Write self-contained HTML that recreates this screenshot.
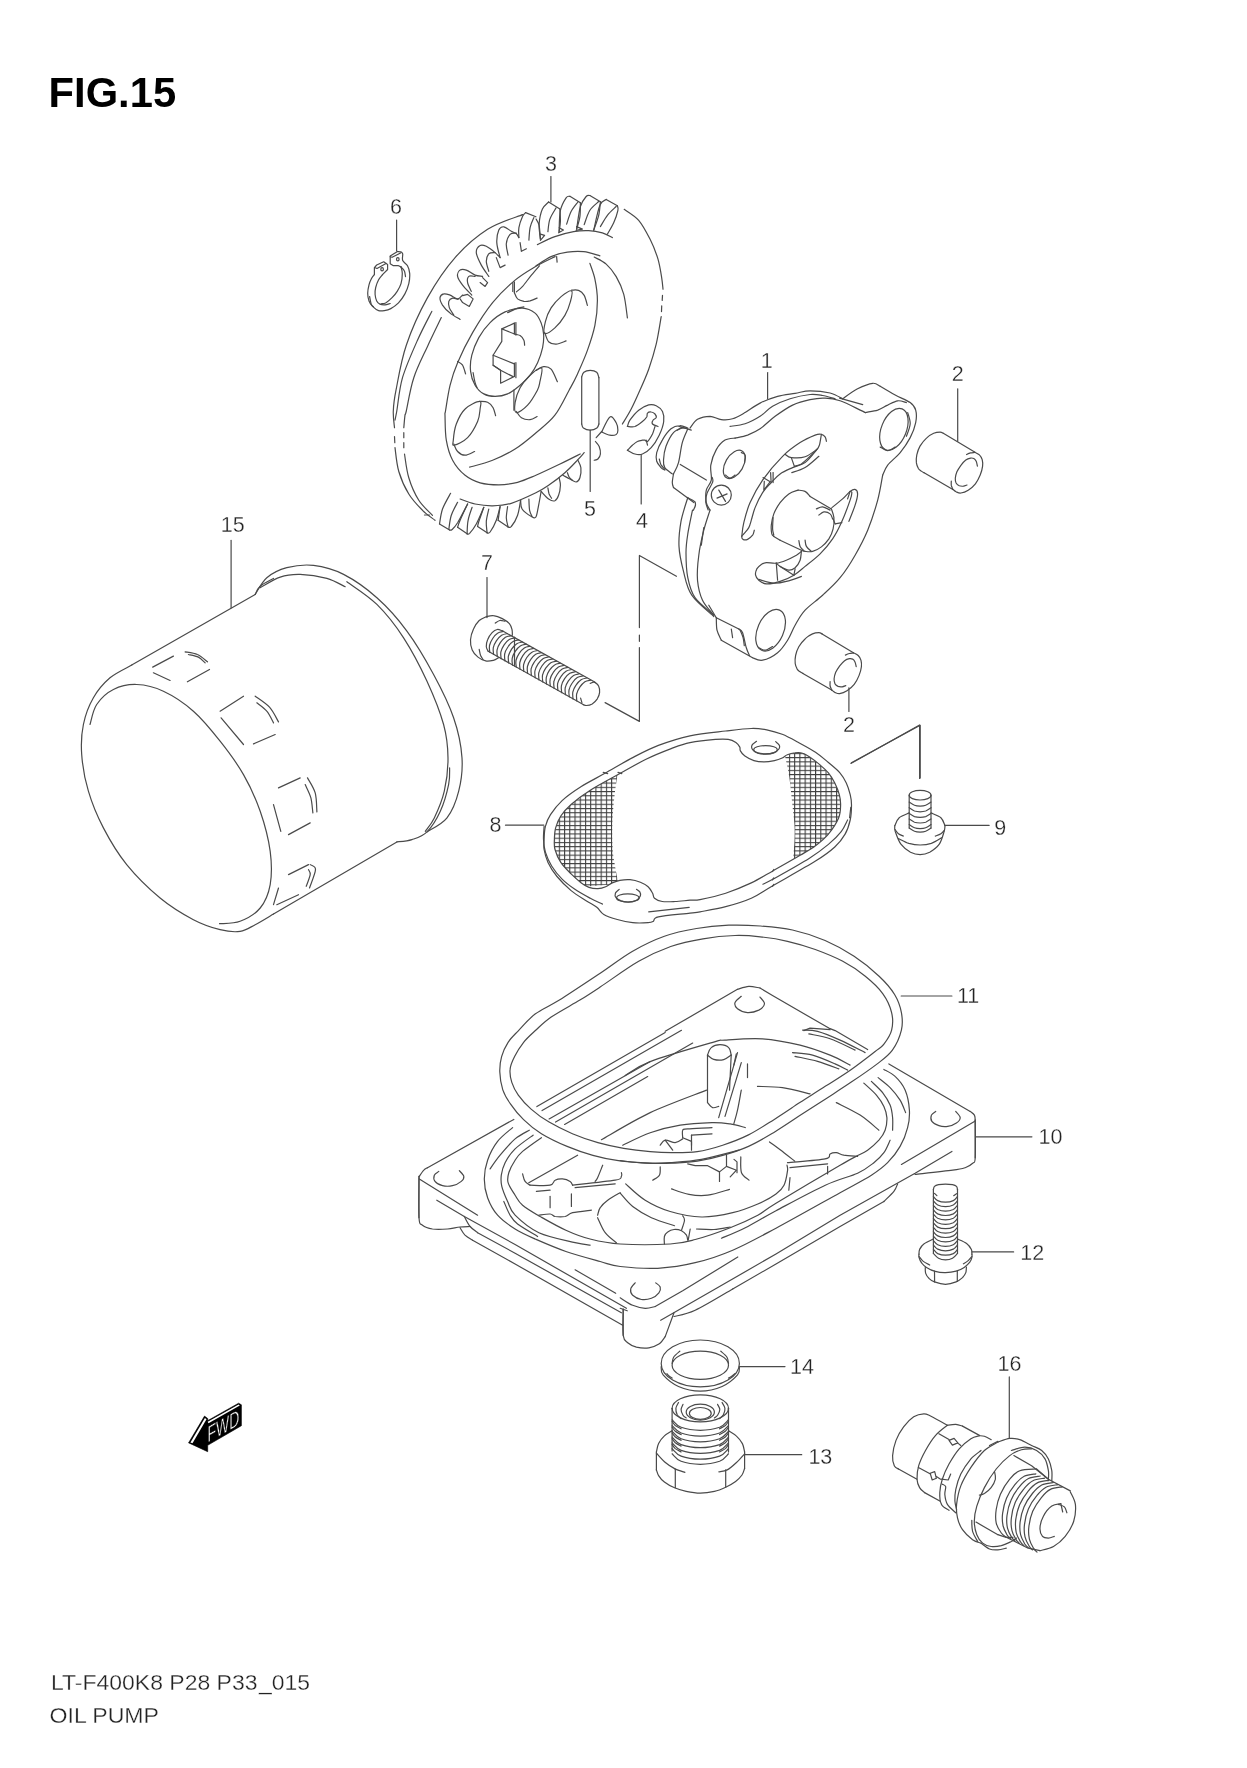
<!DOCTYPE html>
<html><head><meta charset="utf-8"><title>FIG.15 OIL PUMP</title>
<style>
html,body{margin:0;padding:0;background:#fff}
svg{display:block;filter:grayscale(1)}
svg path,svg ellipse,svg line,svg circle{fill:none;stroke:#4a4a4a;stroke-width:1.2;stroke-linecap:round;stroke-linejoin:round}
svg text{font-family:"Liberation Sans",Arial,sans-serif;fill:#222;stroke:#fff;stroke-width:0.3;paint-order:fill stroke}
</style></head><body>
<svg width="1247" height="1768" viewBox="0 0 1247 1768">
<rect width="1247" height="1768" fill="#fff" stroke="none"/>
<path d="M624.2 209.3C626.6 211.1 634.4 215.3 638.7 220.3C643 225.3 646.7 232.6 650 239.1C653.2 245.5 656 252.6 658 259.1C659.9 265.6 660.9 272.8 661.7 277.9C662.5 282.9 662.8 287.2 663 289.1"/>
<path d="M662.5 295.4L662.2 300.4"/>
<path d="M661.7 305.9L661.5 311.6"/>
<path d="M661.2 316.6C660.4 321.2 658.3 335.4 656.2 344.2C654.1 352.9 651.4 361.5 648.7 369.2C646 376.8 642.9 383.6 639.9 390.2C637 396.8 634.1 403.3 631.2 409C628.3 414.6 623.9 421.5 622.4 424"/>
<path d="M522.6 214.6C516.8 217 498.8 222.1 487.6 229.3C476.3 236.5 465.1 246.2 455.1 257.6C445 269 435.7 283 427.5 297.6C419.4 312.2 411.5 329.7 406.3 345.2C401 360.6 398.2 379.2 396 390.2C393.8 401.2 393.5 404.7 393.3 411C393 417.2 394.3 424.9 394.5 427.7"/>
<path d="M394.5 436.5L394.8 442.7"/>
<path d="M395 447.7C395.6 451.7 396.5 463.8 398.8 471.5C401.1 479.2 404.8 487.6 408.8 494C412.7 500.5 418.2 505.9 422.5 510.3C426.9 514.7 433 518.6 435 520.3"/>
<path d="M431.8 311.4C429.4 316.2 422.4 329.1 417.5 340.2C412.6 351.2 406 365.9 402.5 377.7C399.1 389.5 398 403.9 396.8 411C395.5 418 395.3 418.7 395 420.2"/>
<path d="M441.3 317.6C439 322.4 432.1 336.4 427.5 346.4C422.9 356.4 417.3 366.9 413.8 377.7C410.2 388.4 407.7 404.7 406.3 411C404.8 417.2 405.4 412.4 405 415.2C404.6 418 404 425.6 403.8 427.7"/>
<path d="M403.8 432.7L403.8 437.7"/>
<path d="M403.8 442.7L403.8 447.7"/>
<path d="M404.5 454C405.2 457.9 406.4 470 408.8 477.8C411.1 485.5 414.8 494 418.8 500.3C422.7 506.5 430.2 512.8 432.5 515.3"/>
<path d="M424.5 515L429.5 515"/>
<path d="M555.1 256.6C551.9 258.2 542.5 262.4 535.9 266.3C529.2 270.3 522.3 274.1 515.1 280.1C507.9 286.2 499.7 293.9 492.6 302.6C485.5 311.4 478.4 322.6 472.6 332.6C466.7 342.7 461.3 353.9 457.6 362.7C453.8 371.4 452.1 377.1 450.1 385.2C448.1 393.2 446.4 405.9 445.5 411C444.7 416 444.9 410.3 445 415.2C445.2 420.1 445 432.7 446.3 440.2C447.6 447.7 449.4 454.4 452.6 460.2C455.7 466.1 460.5 471.5 465.1 475.3C469.7 479 474.4 481.2 480.1 482.8C485.7 484.3 492.6 484.8 498.8 484.8C505.1 484.7 511.4 483.8 517.6 482.3C523.8 480.7 528.8 478.3 535.9 475.3C543 472.2 552.8 467.5 560.1 464C567.5 460.4 576.8 455.7 580.2 454"/>
<path d="M536.1 265.8C538.6 264.3 545.9 258.9 551.1 256.6C556.3 254.3 562 252.9 567.4 252.1C572.8 251.3 578.2 251 583.7 251.6C589.1 252.2 597.2 255.1 599.9 255.8"/>
<path d="M556.6 256.6L557.1 262.1"/>
<path d="M594.2 257.1C596.2 258.3 602.5 260.8 606.2 264.1C609.8 267.3 613.3 271.6 616.2 276.6C619.1 281.6 621.8 287.2 623.7 294.1C625.6 301 626.8 313.9 627.4 317.9"/>
<path d="M589.9 263.3C590.7 266 593.7 272.9 594.9 279.1C596.2 285.3 597.4 292.7 597.4 300.4C597.4 308.1 596.6 317 594.9 325.4C593.2 333.7 590.3 342.3 587.4 350.4C584.5 358.5 580.4 367.5 577.4 374.2C574.4 380.8 572.9 383.3 569.1 390.2C565.4 397 560.4 408.1 554.9 415.2C549.4 422.3 542.7 427.1 536.1 432.7C529.5 438.3 522.4 444.4 515.1 449C507.8 453.6 500.2 457.2 492.6 460.2C485 463.3 473.4 466.1 469.6 467.2"/>
<path d="M537.4 244.6C540.3 243.2 548.8 238.7 554.9 236.6C560.9 234.4 568 232.6 573.6 231.6C579.3 230.6 583.9 230.4 588.7 230.6C593.5 230.8 598.5 231.7 602.4 232.8C606.4 234 610.8 236.8 612.4 237.6"/>
<path d="M460.1 499C462.6 499.9 469.7 502.9 475.1 504C480.5 505.1 486.5 505.9 492.6 505.8C498.6 505.6 504.1 505.4 511.3 503.3C518.6 501.1 529.7 495.8 535.9 492.8C542.1 489.8 543.8 488.6 548.6 485.3C553.5 481.9 560.1 476.9 564.9 472.7C569.7 468.6 574.2 463.6 577.4 460.2C580.6 456.9 583 454 584.2 452.7"/>
<path d="M540.4 239.1C540.2 236.6 538.8 229.1 539.1 224.1C539.5 219.1 540.8 212.7 542.4 209.1C544 205.4 547.6 203.2 548.6 202"/>
<path d="M548.6 202L559.9 209.1"/>
<path d="M559.9 209.1C560 211.1 560.5 217.8 560.4 221.6C560.3 225.3 559.3 229.9 559.1 231.6"/>
<path d="M547.9 231.6C548.2 229.5 548.5 223 549.9 219.1C551.3 215.1 555.1 209.7 556.1 207.8"/>
<path d="M559.1 231.6C559.3 228 559.2 215.9 560.4 210.3C561.6 204.7 564.6 200.1 566.1 197.8C567.7 195.5 569.3 196.5 569.9 196.3"/>
<path d="M569.9 196.3L580.4 202.8"/>
<path d="M580.4 202.8C580.3 205.1 580.5 212.2 579.9 216.6C579.3 220.9 577.2 227 576.6 229.1"/>
<path d="M566.6 224.1C567.4 222 569.3 215.2 571.1 211.6C573 207.9 576.8 203.6 577.9 202"/>
<path d="M576.6 229.1C577.3 225.3 578.8 212 580.4 206.5C582 201.1 584.6 198.4 586.2 196.5C587.7 194.7 589.3 195.7 589.9 195.5"/>
<path d="M589.9 195.5L600.4 201.8"/>
<path d="M600.4 201.8C600.1 204 599.8 210.6 598.7 215.3C597.5 220.1 594.5 227.8 593.7 230.3"/>
<path d="M584.2 224.6C585.1 222.2 587.5 214.1 589.9 210.3C592.3 206.5 597.2 203 598.7 201.5"/>
<path d="M593.7 230.3C594.7 226.1 597.8 210.4 599.9 205.3C602 200.2 605.1 200.5 606.2 199.5"/>
<path d="M606.2 199.5L617.4 205.8"/>
<path d="M617.4 205.8C617.5 206.5 618.6 207.5 617.9 210.3C617.3 213.1 615.4 218.9 613.7 222.8C611.9 226.8 608.5 232.2 607.4 234.1"/>
<path d="M600.4 226.6C601.6 224.7 604.8 218.6 607.4 215.3C610 212 614.7 208 616.2 206.5"/>
<path d="M540.4 234.1L544.6 235.3L540.4 240.3"/>
<path d="M559.1 227.8L563.4 230.1L558.6 232.8"/>
<path d="M576.6 226.6L582.4 229.1L576.1 230.3"/>
<path d="M460.1 319.4C458.4 318.3 453 315.5 450.1 313.1C447.1 310.8 444.2 307.7 442.5 305.1C440.9 302.5 439.8 299.5 440 297.6C440.3 295.7 442.1 294.3 443.8 293.9C445.5 293.4 447.8 294.3 450.1 295.1C452.3 296 455.5 298.9 457.6 298.9C459.6 298.9 461.7 295.7 462.6 295.1"/>
<path d="M453.8 315.1C453.1 313.9 450.1 309.9 449.3 307.6C448.5 305.3 448.3 303 448.8 301.4C449.3 299.8 451 298.5 452.6 298.1C454.1 297.8 457.1 299.2 458.1 299.4"/>
<path d="M462.6 295.6L467.6 294.4L473.1 298.9L469.3 306.4L462.6 302.6L460.1 298.9"/>
<path d="M471.8 295.1C470.3 293.4 464.9 288.2 462.6 285.1C460.2 282 458 278.9 457.6 276.4C457.1 273.9 458.6 271.1 460.1 270.1C461.5 269.1 463.8 269.3 466.3 270.1C468.8 270.9 472.4 274.1 475.1 275.1C477.8 276.1 481.3 276.1 482.6 276.4"/>
<path d="M471.3 291.4C470.7 289.9 468 285.1 467.6 282.6C467.1 280.1 467.6 277.4 468.8 276.4C470.1 275.3 474 276.4 475.1 276.4"/>
<path d="M482.6 277.6L487.6 282.6L485.1 286.4L480.1 282.6"/>
<path d="M488.8 276.4C487.6 274.5 483.4 269.1 481.3 265.1C479.2 261.1 476.5 255.8 476.3 252.6C476.1 249.3 478.4 246.6 480.1 245.6C481.7 244.5 483.8 245.2 486.3 246.3C488.8 247.5 492.8 250.7 495.1 252.6C497.4 254.5 499.3 256.8 500.1 257.6"/>
<path d="M488.8 271.3C488.4 269.7 486.3 264.3 486.3 261.3C486.3 258.4 487.4 255.3 488.8 253.8C490.3 252.4 494 252.8 495.1 252.6"/>
<path d="M496.3 257.6L500.1 267.6L505.1 265.1"/>
<path d="M500.1 257.6C499.5 255.1 497 247.2 496.8 242.6C496.6 238 497.7 232.7 498.8 230.1C500 227.4 501.8 226.6 503.8 226.8C505.9 227 509.3 230.2 511.3 231.3C513.4 232.5 515.1 232.8 516.4 233.8C517.6 234.9 518.4 236.9 518.9 237.6"/>
<path d="M508.1 255.1C507.8 253.2 506 247.3 506.3 243.8C506.7 240.4 508.4 236.1 510.1 234.3C511.8 232.5 515.3 233.3 516.4 233.1"/>
<path d="M520.1 242.6L521.4 251.3L526.4 248.8"/>
<path d="M518.9 237.6C518.9 235.9 518.2 231.1 518.9 227.6C519.5 224 521.5 218.8 522.6 216.3C523.7 213.8 525.1 213.2 525.6 212.6"/>
<path d="M525.6 212.6L535.9 216.8"/>
<path d="M536.1 219.1C536.6 220.1 538.4 222 539.1 225.3C539.8 228.6 540.2 236.8 540.4 239.1"/>
<path d="M528.9 240.1C529.1 238 529.3 231.3 530.1 227.6C530.9 223.8 533.2 219.2 533.9 217.6"/>
<path d="M450.6 493.3C449.2 495.9 444.4 503.9 442.5 509C440.7 514.2 440 521.5 439.5 524"/>
<path d="M439.5 524L449.6 530"/>
<path d="M449.6 530C450 530 450.7 530.8 452.1 529.5C453.4 528.3 455 527 457.6 522.8C460.1 518.5 465.9 507.2 467.6 504"/>
<path d="M457.6 502.3C456.5 504.4 452.8 510.7 451.3 515.3C449.8 519.8 449.2 527.2 448.8 529.5"/>
<path d="M467.6 504C466.3 506.7 461.7 516.4 460.1 520.3C458.4 524.2 458 526.1 457.6 527.3"/>
<path d="M457.6 527.3L467.1 533.8"/>
<path d="M467.1 533.8C467.5 533.7 468 534.9 469.6 533.3C471.1 531.7 473.9 528.4 476.3 524C478.7 519.7 482.6 510.1 483.8 507.3"/>
<path d="M472.1 507.3C471.4 509.4 468.9 515.9 468.1 520.3C467.2 524.7 467.2 531.5 467.1 533.8"/>
<path d="M483.8 507.3C483 509.7 479.9 518.3 478.8 521.5C477.8 524.7 477.8 525.7 477.6 526.5"/>
<path d="M477.6 526.5L487.1 532.8"/>
<path d="M487.1 532.8C487.6 532.7 488.5 534.1 490.1 532C491.6 530 494.7 524.5 496.3 520.3C498 516 499.5 508.8 500.1 506.5"/>
<path d="M488.8 509C488.4 511.1 486.6 517.6 486.3 521.5C486 525.5 487 530.9 487.1 532.8"/>
<path d="M500.1 506.5L498.1 520.3"/>
<path d="M498.1 520.3L508.1 527"/>
<path d="M508.1 527C508.6 527 509.8 528.5 511.3 526.5C512.9 524.6 516.1 519.7 517.6 515.3C519.1 510.9 520.1 502.8 520.6 500.3"/>
<path d="M507.6 506.5C507.4 508.4 506.3 514.4 506.3 517.8C506.4 521.2 507.8 525.5 508.1 527"/>
<path d="M520.6 500.3C520.9 501.7 520.3 506.3 522.1 509C523.9 511.7 529.1 515.2 531.4 516.5C533.7 517.9 534.7 518.9 535.9 517C537.1 515.2 537.7 509.5 538.6 505.3C539.5 501 540.7 493.8 541.1 491.5"/>
<path d="M528.9 499C529 500.9 529.1 507.4 529.6 510.3C530.2 513.2 531.7 515.5 532.1 516.5"/>
<path d="M541.1 491.5C542.4 492.8 546.3 497.5 548.6 499C550.9 500.6 553.2 501.4 554.9 500.8C556.5 500.1 557.7 497.9 558.6 495.3C559.6 492.7 560.3 488.2 560.4 485.3C560.5 482.3 559.3 479 559.1 477.8"/>
<path d="M547.9 487.8C548.1 488.8 548.5 492.3 549.1 494C549.8 495.8 551.2 497.6 551.6 498.3"/>
<path d="M562.9 475.3C564.1 475.9 567.7 477.9 569.9 479C572.1 480.1 574.5 482.2 576.1 482C577.8 481.8 579.1 480.1 579.9 477.8C580.7 475.4 581.2 470.7 580.9 467.7C580.6 464.8 578.4 461.5 577.9 460.2"/>
<path d="M567.4 472.7C567.7 473.5 568.3 475.8 569.1 477C570 478.3 571.9 479.7 572.4 480.3"/>
<path d="M601.7 432C603 429.5 607.5 418.5 609.9 417C612.3 415.4 614.8 420.5 616.2 422.7C617.5 424.9 617.9 428.3 617.9 430.2C617.9 432.2 617.5 433.6 616.2 434.5C614.8 435.3 612.3 435.6 609.9 435.2C607.5 434.8 603 432.5 601.7 432"/>
<path d="M601.7 431.5L596.2 437.7"/>
<path d="M595.4 441.5C596 442.3 598.3 444.4 599.2 446.5C600 448.6 600.6 451.9 600.4 454C600.2 456.1 599 457.9 597.9 459C596.9 460 594.8 460 594.2 460.2"/>
<path d="M522.6 308.1C517.6 307.9 510.5 309.5 505.1 311.9C499.7 314.3 494.5 318.3 490.1 322.6C485.7 326.9 481.9 332.2 478.8 337.6C475.8 343.1 473.2 349.5 471.8 355.2C470.4 360.8 470 366.4 470.6 371.4C471.1 376.4 472.9 381.4 475.1 385.2C477.3 388.9 480.5 392.1 483.8 393.9C487.2 395.8 491.1 396.4 495.1 396.4C499 396.4 503.4 395.8 507.6 393.9C511.8 392.1 516.4 388.3 520.1 385.2C523.9 382.1 527.2 378.9 530.1 375.2C533 371.4 535.5 367.3 537.6 362.7C539.7 358.1 541.6 352.4 542.6 347.7C543.6 342.9 543.9 338.3 543.6 334.1C543.4 330 542.5 326.4 541.1 322.9C539.7 319.4 538.2 315.6 535.1 313.1C532 310.7 527.6 308.3 522.6 308.1Z"/>
<path d="M507.6 312.6C509.3 311.9 514.9 309.1 517.6 308.1C520.3 307.2 522.8 307.1 523.9 306.9"/>
<path d="M473.1 372.7C473.4 374.3 474.4 380.2 475.1 382.7C475.7 385.2 476.7 386.9 477.1 387.7"/>
<path d="M514.4 323.1L501.8 328.9L501.8 341.4L493.1 355.2L493.1 365.2L500.6 370.2L500.6 383.2L514.4 376.4"/>
<path d="M514.4 323.1L514.4 333.9"/>
<path d="M515.9 322.6L515.9 335.1"/>
<path d="M514.4 363.2L514.4 376.4"/>
<path d="M515.9 362.7L515.9 377.7"/>
<path d="M501.8 328.9C503.9 329.7 511.3 332.8 514.4 333.9C517.4 335 518.5 334.6 520.1 335.6C521.7 336.7 523.1 338.6 523.9 340.2C524.6 341.7 524.5 344.3 524.6 345.2"/>
<path d="M493.1 355.2L514.4 363.9"/>
<path d="M493.1 365.2L500.6 370.2L512.6 376.4"/>
<path d="M457.6 361.4C458.4 362 461.2 363.1 462.6 365.2C463.9 367.3 465.1 372.5 465.6 373.9"/>
<path d="M514.4 281.9L514.4 293.1"/>
<path d="M512.8 282.6L512.8 291.4"/>
<path d="M514.4 292.6C514.9 293.7 516 297.4 517.6 298.9C519.2 300.3 521.8 301 523.9 301.4C525.9 301.7 527.9 301.4 530.1 300.9C532.3 300.3 536 298.6 537.1 298.1"/>
<path d="M539.4 265.8C538 267.4 534.2 271.7 531.4 275.1C528.6 278.5 525.1 283.6 522.6 286.4C520.1 289.2 517.4 290.9 516.4 291.9"/>
<path d="M571.6 290.9C570.1 290 564.6 293.8 561.1 296.6C557.7 299.5 553.8 303.7 551.1 307.9C548.5 312 546.4 317.4 545.4 321.6C544.3 325.9 543.3 332.4 544.9 333.4C546.5 334.4 551.5 330.9 554.9 327.9C558.2 324.9 562.3 319.8 564.9 315.4C567.5 311 569.3 305.7 570.4 301.6C571.5 297.5 573.2 291.7 571.6 290.9Z"/>
<path d="M571.6 290.1C572.8 290.2 576.6 289.5 578.6 290.4C580.7 291.2 582.7 292.9 584.2 295.4C585.6 297.9 586.9 303.7 587.4 305.4"/>
<path d="M544.9 332.9C545.5 334.4 546.8 339.8 548.6 341.7C550.5 343.5 553.2 344.3 556.1 344.2C559.1 344 564.5 341.4 566.1 340.9"/>
<path d="M541.6 367.9C540 366.8 533.7 371.9 530.1 375.2C526.5 378.5 522.6 383.1 520.1 387.7C517.6 392.3 515.7 398.5 515.1 402.7C514.5 406.9 514.3 412.3 516.4 412.7C518.4 413.1 524.1 409 527.6 405.2C531.1 401.4 535.3 394.1 537.4 390.2C539.4 386.3 539.2 385.4 539.9 381.7C540.6 378 543.2 369 541.6 367.9Z"/>
<path d="M536.1 370.4C537.4 369.8 541.1 366.9 543.6 366.7C546.1 366.5 548.8 366.7 551.1 369.2C553.4 371.7 556.3 379.6 557.4 381.7"/>
<path d="M516.4 411.5C517.2 412.5 519.1 416.3 521.4 417.7C523.6 419.1 527.5 419.9 530.1 419.7C532.7 419.5 536 417 537.1 416.5"/>
<path d="M513.9 390.2L513.9 410.2"/>
<path d="M479.6 401.4C477.1 401.4 468.9 405.2 465.1 409C461.2 412.7 458.3 418.8 456.3 424C454.3 429.2 453.6 436.7 453.3 440.2C453 443.8 451.9 445.6 454.3 445.2C456.7 444.8 463.7 441.7 467.6 437.7C471.4 433.8 475.5 426.3 477.6 421.5C479.7 416.7 479.7 412.3 480.1 409C480.4 405.6 482.1 401.4 479.6 401.4Z"/>
<path d="M479.6 401.4C480.9 401.6 485.3 401.2 487.6 402.2C489.8 403.2 491.8 405.4 493.1 407.7C494.4 410 495.2 414.4 495.6 415.7"/>
<path d="M453.8 444C454.4 445.2 455.7 449.6 457.6 451.5C459.4 453.4 462.2 455.2 465.1 455.2C467.9 455.2 473 452.1 474.6 451.5"/>
<path d="M581.7 376.9L581.7 424"/>
<path d="M598.9 377.7L598.9 424"/>
<path d="M581.7 376.9C582 376.1 582.5 373.3 583.9 372.2C585.3 371.1 588 370.4 590.2 370.4C592.3 370.4 595.2 371 596.7 372.2C598.1 373.4 598.5 376.8 598.9 377.7"/>
<path d="M581.7 424C581.9 424.6 582 426.9 583.4 428C584.8 429 587.9 430.2 590.2 430.2C592.4 430.2 595.5 429 596.9 428C598.4 426.9 598.6 424.6 598.9 424"/>
<path d="M590.2 430.2L590.2 491.5"/>
<path d="M627.4 450.2C628.7 450.9 632.4 453.4 634.9 454C637.4 454.6 639.7 455 642.4 454C645.2 452.9 648.4 450.9 651.2 447.7C654 444.6 657.1 439.6 659.2 435.2C661.3 430.8 663.2 425.4 663.7 421.5C664.3 417.5 663.7 414.1 662.5 411.5C661.2 408.8 658.5 406.8 656.2 405.7C653.9 404.6 651.6 404.2 648.7 404.9C645.8 405.7 641.8 407.7 638.7 410.2C635.6 412.7 631.8 417.5 629.9 420.2C628.1 422.9 627.9 425.4 627.4 426.5"/>
<path d="M627.4 426.5C628.7 426.5 632.4 427.3 634.9 426.5C637.4 425.6 640.5 423 642.4 421.5C644.4 419.9 645.9 418.3 646.7 417C647.5 415.6 646.7 414 647.5 413.2C648.2 412.4 650 411.8 651.2 412C652.5 412.1 654.1 413 655 414C655.8 414.9 656.5 416.7 656.2 417.7C655.9 418.8 653.6 419.2 653 420.2C652.3 421.3 651.6 422.9 652.5 424C653.3 425 657 426 658 426.5"/>
<path d="M655 426.5C654.5 427.7 653.7 431.5 652.5 434C651.2 436.5 648.7 440.4 647.5 441.5C646.2 442.5 645.8 440.4 644.9 440.2C644.1 440 643.7 440 642.4 440.2C641.2 440.4 639.1 440.6 637.4 441.5C635.8 442.3 634.1 443.8 632.4 445.2C630.8 446.7 628.3 449.4 627.4 450.2"/>
<path d="M646.2 440.2L647.5 445.2"/>
<path d="M641.2 454.5L641.2 504"/>
<path d="M550.9 176.5L550.9 202"/>
<path d="M397.5 251.5C398.1 251.6 400.1 251.5 401 251.9C401.9 252.3 402.4 252.4 402.7 253.8C403 255.2 401.9 258.5 402.7 260.5C403.5 262.5 406.3 263.6 407.5 265.7C408.7 267.8 409.5 270.4 409.7 273.4C409.9 276.4 409.6 280.2 408.8 283.6C408 287 406.6 290.7 404.9 293.9C403.2 297.1 400.9 300.4 398.5 302.9C396.1 305.3 393.2 307.3 390.8 308.6C388.4 309.9 386.4 310.3 384.4 310.6C382.4 310.9 380.5 311.2 378.6 310.6C376.7 310 374.4 308.3 372.8 306.7C371.2 305.1 369.9 303.1 369 300.9C368.1 298.6 367.7 295.9 367.7 293.2C367.7 290.5 368.4 287.3 369 284.9C369.6 282.4 370.6 280.2 371.5 278.5C372.4 276.8 373.9 275.2 374.4 274.6"/>
<path d="M374.4 274.6L374.4 267.6L376.7 265L383.7 261.8L387.6 264.4L387.6 269.5L382.5 274.6"/>
<path d="M382.5 274.6C381.9 275.5 379.7 277.7 378.6 279.8C377.5 281.9 376.3 285.1 375.7 287.5C375.1 289.9 374.9 292.3 375.1 294.5C375.3 296.7 375.9 299.3 376.7 300.9C377.5 302.5 378.5 303.5 379.9 304.1C381.3 304.8 383.3 304.9 385 304.8C386.7 304.7 389.3 303.7 390.2 303.5"/>
<path d="M401 266.9C401.2 268 402.3 270.6 402.3 273.4C402.3 276.2 401.9 280.6 401 283.6C400.1 286.6 398.7 289 397.2 291.3C395.7 293.6 394 295.8 392.1 297.7C390.2 299.6 387.5 301.9 385.7 302.9C383.9 303.9 381.9 303.6 381.2 303.8"/>
<path d="M397.5 251.5L390.2 256L390.2 263.7L393.4 265.7L398.5 265.7L401 266.9"/>
<path d="M390.2 256.7L392.1 257.3L401 252.8"/>
<path d="M374.6 267.5L377 268.5L386 263.5"/>
<path d="M369.6 296.5C369.9 297.8 370.6 302.4 371.2 304.1C371.8 305.8 373.1 306.3 373.5 306.7"/>
<path d="M396.6 220L396.6 251"/>
<path d="M690 428.1C691.3 426.6 694.2 421.3 697.5 419.3C700.9 417.4 706.1 416.3 710 416.3C714 416.4 717.5 419.2 721.3 419.6C725 420 728.6 420 732.6 418.8C736.5 417.6 740.5 415.2 745.1 412.6C749.7 409.9 754.7 405.8 760.1 403.1C765.5 400.3 771.8 397.9 777.6 396.3C783.4 394.7 789.7 394.2 795.1 393.3C800.5 392.4 804.3 390.8 810.1 390.8C816 390.8 824.7 391.7 830.1 393C835.5 394.4 840.6 397.8 842.6 398.8"/>
<path d="M730.1 426.3C732.6 425.9 740.1 425.5 745.1 423.8C750.1 422.2 755.5 419.2 760.1 416.3C764.7 413.4 767.6 409.2 772.6 406.3C777.6 403.4 783.8 400.8 790.1 398.8C796.4 396.8 804.7 395.1 810.1 394.5C815.5 394 818.5 394.8 822.6 395.5C826.8 396.3 833 398.3 835.1 398.8"/>
<path d="M735.1 438.1C737.1 437.6 743.4 436.6 747.6 435.1C751.7 433.5 755.5 432 760.1 428.8C764.7 425.7 769.7 420.3 775.1 416.3C780.5 412.4 786.8 407.9 792.6 405.1C798.4 402.3 804.7 400.7 810.1 399.6C815.5 398.4 820.1 397.8 825.1 398.1C830.1 398.3 834.3 398.8 840.1 400.8C846 402.8 856 408.1 860.2 410.1C864.3 412 864.3 412.1 865.2 412.6"/>
<path d="M842.6 398.8C845.1 397.1 852.6 391.4 857.6 388.8C862.7 386.2 868.9 383.7 872.7 383.3C876.4 382.9 878.9 385.8 880.2 386.3"/>
<path d="M880.2 386.3C882.7 387.8 890.2 392.3 895.2 395C900.2 397.8 906.8 400.1 910.2 402.6C913.6 405.1 914.8 406.7 915.7 410.1C916.6 413.4 916.6 418 915.7 422.6C914.8 427.2 912.8 432.6 910.2 437.6C907.6 442.6 903.9 448 900.2 452.6C896.4 457.2 890.6 461.3 887.7 465.1C884.8 468.9 883.5 473.4 882.7 475.1"/>
<path d="M865.2 412.6C867.2 412.1 873.9 411.3 877.7 410.1C881.4 408.8 884.3 406.6 887.7 405.1C891 403.5 894.6 401.2 897.7 400.8C900.8 400.4 905 402.3 906.4 402.6"/>
<path d="M839.6 398.1L862.7 404.6" stroke-width="1.6"/>
<ellipse cx="893.9" cy="429.3" rx="12.5" ry="22" transform="rotate(22 893.9 429.3)"/>
<path d="M907.7 412.6C908.1 414.4 910.4 419.9 910.2 423.8C910 427.8 907.1 434.2 906.4 436.3"/>
<path d="M880.2 447.1C881.4 447.7 885.2 450.6 887.7 450.6C890.2 450.6 893.9 447.7 895.2 447.1"/>
<path d="M882.7 475.1C881.8 479.3 880.2 491 877.7 500.1C875.2 509.3 871.4 521 867.7 530.2C863.9 539.3 859.7 547.2 855.1 555.2C850.6 563.1 845.6 571 840.1 577.7C834.7 584.4 828.5 589.8 822.6 595.2C816.8 600.6 809.7 605.2 805.1 610.2C800.5 615.2 798 620.2 795.1 625.2C792.2 630.2 790.5 635.6 787.6 640.2C784.7 644.8 781.8 649.4 777.6 652.7C773.4 656.1 766.7 659.4 762.6 660.2C758.4 661.1 754.2 658.2 752.6 657.7"/>
<path d="M735.1 438.1C733.4 438.4 728.2 438.2 725 440.1C721.9 442 718.7 445.4 716.3 449.6C713.9 453.8 711.6 460 710.8 465.1C710 470.2 712 475.9 711.3 480.1C710.5 484.3 707.1 486.4 706.3 490.1C705.5 493.9 705.7 499.3 706.3 502.6C706.9 506 709.4 508.9 710 510.1"/>
<path d="M710 510.1C709 513.5 705.7 522.6 703.8 530.2C701.9 537.7 699.8 546.8 698.8 555.2C697.7 563.5 696.9 572.7 697.5 580.2C698.2 587.7 699.8 594.4 702.5 600.2C705.2 606 711.9 612.7 713.8 615.2"/>
<path d="M703.8 527.6L701.3 545.2"/>
<path d="M687.8 497.6C686.6 501.6 682.5 513.3 681 521.4C679.6 529.5 678.6 538.1 679 546.4C679.4 554.8 681.4 563.3 683.5 571.4C685.6 579.6 686.7 587.7 691.8 595.2C696.8 602.7 710.1 612.9 713.8 616.5"/>
<path d="M692.5 510.1C691.7 514.1 688.9 526.8 687.8 533.9C686.7 541 686 545.4 686 552.7C686 560 686.3 570.2 687.8 577.7C689.3 585.2 690.7 591.4 695 597.7C699.4 604 710.7 612.3 713.8 615.2"/>
<path d="M708.8 605.2L716.3 617.7" stroke-width="1.6"/>
<path d="M716.3 617.7C716.4 619.8 716.2 626.5 717 630.2C717.9 634 720.6 638.6 721.3 640.2"/>
<path d="M721.3 640.2L752.6 657.7"/>
<path d="M716.3 617.7L738.8 629"/>
<path d="M738.8 629C739.4 629.6 741.3 629.6 742.6 632.7C743.8 635.9 745.1 643.9 746.3 647.7C747.5 651.6 749 654.4 749.6 655.7"/>
<path d="M731.3 629L732.6 637.7"/>
<path d="M740.1 630.2C740.6 631.5 742.4 635.1 743.1 637.7C743.8 640.3 744.1 644.4 744.3 645.7"/>
<ellipse cx="770.6" cy="630.2" rx="13" ry="22" transform="rotate(24 770.6 630.2)"/>
<path d="M758.8 647.7C759.9 648.2 762.8 650.4 765.1 650.2C767.4 650 771.3 647.1 772.6 646.5"/>
<ellipse cx="734.3" cy="464.4" rx="9" ry="15.5" transform="rotate(30 734.3 464.4)"/>
<path d="M741.3 452.6C741.9 453 744.5 453.4 745.1 455.1C745.6 456.8 744.6 461.3 744.6 462.6"/>
<path d="M725.5 475.1C726.3 475.6 728.5 478.1 730.1 478.1C731.6 478.1 734.2 475.6 735.1 475.1"/>
<ellipse cx="721.3" cy="495.1" rx="10" ry="10" transform="rotate(0 721.3 495.1)"/>
<path d="M718.8 490.1L725.5 501.4"/>
<path d="M717 498.1L727.1 493.9"/>
<path d="M687.8 428.1C686.4 427.7 682.6 425.4 679.8 425.6C677 425.7 673.9 426.4 671 428.8C668.1 431.2 664.6 436.1 662.3 440.1C659.9 444 657.7 449 656.7 452.6C655.8 456.1 656 458.8 656.7 461.3C657.5 463.9 659.7 466.1 661 467.6C662.3 469.1 664.1 469.7 664.8 470.1"/>
<path d="M683.5 427.6C681.8 428.4 676.4 429.4 673.5 432.6C670.6 435.7 667.7 441.8 666 446.3C664.3 450.9 663.7 456.6 663.5 460.1C663.3 463.6 663.3 465.3 664.8 467.6C666.2 469.9 671 472.8 672.3 473.9"/>
<path d="M687.8 428.8C686.9 431.1 683.8 437 682.3 442.6C680.7 448.2 680 457.4 678.5 462.6C677.1 467.8 674.3 472 673.5 473.9"/>
<path d="M673.5 473.9C673.3 475.3 672.3 480.3 672.3 482.6C672.3 484.9 673.3 486.8 673.5 487.6"/>
<path d="M673.5 487.6L693.8 502.6"/>
<path d="M680.3 464.4L706.3 480.1"/>
<path d="M678.8 426.3L691.3 430.1"/>
<path d="M741.8 536.4C742.1 534.1 742.4 528.3 743.8 522.6C745.2 517 746.9 509.7 750.1 502.6C753.2 495.5 757.2 487.8 762.6 480.1C768 472.4 776.3 462.6 782.6 456.3C788.8 450.1 794.7 446.1 800.1 442.6C805.5 439 811.6 436.5 815.1 435.1C818.7 433.7 819.7 434 821.4 434.3C823 434.6 824.3 435.7 825.1 436.8C826 438 826.2 440.6 826.4 441.3"/>
<path d="M821.4 434.3C821 436.1 820.2 442.5 819.4 445.1C818.5 447.7 818.7 447.2 816.4 450.1C814 453 809.1 459.7 805.1 462.6C801.1 465.5 796.8 465.7 792.6 467.6C788.4 469.5 783.6 471.4 780.1 473.9C776.5 476.4 774.3 479.5 771.3 482.6C768.4 485.7 765.3 488.5 762.6 492.6C759.9 496.8 756.9 503 755.1 507.6C753.2 512.2 752.4 516.8 751.3 520.1C750.3 523.5 750.1 525.4 748.8 527.6C747.6 529.9 745 532.4 743.8 533.9C742.6 535.4 741.9 535.5 741.8 536.4C741.7 537.3 742.1 538.9 743.1 539.4C744 539.9 746 540.1 747.6 539.4C749.2 538.7 751.4 536.7 752.6 535.2C753.7 533.6 754 531 754.3 530.2"/>
<path d="M785.1 454.3C786.1 454.9 788 457.2 791.3 457.6C794.7 458 800.7 458.3 805.1 456.8C809.5 455.4 815.5 450.2 817.6 448.8"/>
<path d="M791.3 457.6L794.4 466.4"/>
<path d="M794.4 466.4C795.5 465.9 798.7 465.5 801.4 463.9C804 462.2 807.6 458.6 810.1 456.3C812.6 454.1 815.3 451.1 816.4 450.1"/>
<path d="M791.8 472.6C794.1 471.8 800.6 470.3 805.1 467.6C809.6 464.9 816.6 458.2 818.9 456.3"/>
<path d="M763.1 477.6L770.6 481.9"/>
<path d="M770.6 472.6L771.1 481.9"/>
<path d="M773.1 472.6L773.1 482.6"/>
<path d="M764.3 481.4L763.8 490.1L770.1 481.9"/>
<path d="M798.1 490.1C796.6 490.7 791.8 491.8 788.8 493.9C785.8 496 782.6 499.3 780.1 502.6C777.6 506 775.3 510.1 773.8 513.9C772.4 517.6 771.7 521.8 771.3 525.1C771 528.5 771.4 532 771.8 533.9C772.3 535.8 773.5 536 773.8 536.4"/>
<path d="M773.1 517.6C773 519.5 772.5 526 772.6 528.9C772.7 531.8 773.6 534.1 773.8 535.2"/>
<path d="M798.1 490.1C799.3 490.3 803.1 490.3 805.1 491.4C807.1 492.4 809.3 495.5 810.1 496.4"/>
<path d="M810.1 496.4L831.4 508.9"/>
<path d="M773.8 536.4L780.1 540.2"/>
<path d="M780.1 540.2L801.4 550.2"/>
<path d="M831.4 508.9C831.8 510.3 833.6 514.3 833.9 517.6C834.2 521 834 525.4 833.1 528.9C832.3 532.4 830.8 535.9 828.9 538.9C826.9 541.9 824.1 544.8 821.4 546.9C818.7 549 815.3 550.7 812.6 551.4C809.9 552.2 807 551.6 805.1 551.4C803.2 551.2 802 550.4 801.4 550.2"/>
<path d="M816.4 508.9C817.4 508.6 820.3 506.7 822.6 506.9C824.9 507.1 828.9 509.6 830.1 510.1"/>
<path d="M818.9 515.1C819.7 514.6 822 512.1 823.9 511.9C825.7 511.7 828.7 512.7 830.1 513.9C831.6 515.1 832.2 518.1 832.6 518.9"/>
<path d="M798.9 540.7C799.1 541.6 799.3 544.7 800.1 546.4C800.9 548.1 803.2 550 803.9 550.7"/>
<path d="M805.1 540.2C805.3 541.2 805.3 544.5 806.4 546.4C807.4 548.3 810.5 550.6 811.4 551.4"/>
<path d="M831.9 507.6C833.7 506.2 839.6 501.6 842.6 498.9C845.7 496.2 848.1 493 850.1 491.4C852.2 489.8 853.9 489 855.1 489.4C856.4 489.8 857.6 491.2 857.6 493.9C857.6 496.5 856.6 500.5 855.1 505.1C853.7 509.7 849.9 518.7 848.9 521.4"/>
<path d="M850.1 491.4C850.4 491.6 851.9 491.2 851.9 492.6C851.9 494.1 851.9 495.1 850.1 500.1C848.4 505.1 844.3 516.2 841.4 522.6C838.5 529.1 836.2 533.7 832.6 538.9C829.1 544.1 824.7 549.3 820.1 553.9C815.5 558.5 809.5 562.9 805.1 566.4C800.7 570 798 572.7 793.9 575.2C789.7 577.7 784.7 580 780.1 581.4C775.5 582.9 769.9 584.1 766.3 583.9C762.8 583.7 760.6 581.6 758.8 580.2C757 578.7 755.9 577.1 755.6 575.2C755.2 573.3 755.9 570.7 756.8 568.9C757.8 567.1 759.7 565.5 761.3 564.4C762.9 563.4 763.8 562.9 766.3 562.7C768.8 562.5 773 563.6 776.3 563.2C779.7 562.8 783 561.5 786.3 560.2C789.7 558.8 793.9 556.6 796.4 555.2C798.9 553.7 800.5 552 801.4 551.4"/>
<path d="M801.4 551.4C801.1 552.9 801.1 557.5 800.1 560.2C799.1 562.9 797 566 795.1 567.7C793.2 569.3 791.3 570.4 788.8 570.2C786.3 570 782.2 567.6 780.1 566.4C778 565.3 777 563.7 776.3 563.2"/>
<path d="M776.3 563.2L777.6 580.2"/>
<path d="M780.1 566.4L793.9 575.2"/>
<path d="M795.1 568.9L793.9 575.2"/>
<path d="M758.8 579.4C761.3 580.1 769.2 582.9 773.8 583.2C778.4 583.5 781.8 582.6 786.3 581.4C790.9 580.3 798.9 577.3 801.4 576.4"/>
<path d="M835.1 523.9L841.9 522.6"/>
<path d="M833.1 518.9L835.1 523.9"/>
<path d="M850.1 491.4L847.6 498.9"/>
<path d="M943.3 433.3C942.8 433.1 941.7 432.1 940.1 432.1C938.5 432.1 936 432.3 933.7 433.3C931.4 434.3 928.7 435.9 926.5 438.1C924.2 440.2 921.7 443.3 920 446.1C918.4 448.9 917.4 452.1 916.8 454.9C916.2 457.7 916.2 460.7 916.4 462.9C916.7 465.2 917.7 467.2 918.4 468.5C919.2 469.9 919.9 470.2 920.9 470.9C921.8 471.7 923.5 472.5 924.1 472.8"/>
<path d="M943.3 433.3L974.6 452.1"/>
<path d="M924.1 472.8L952.9 489.4"/>
<path d="M974.6 452.1C975.4 452.6 978.1 453.6 979.4 454.9C980.7 456.2 981.7 457.8 982.2 459.7C982.7 461.6 982.9 463.6 982.6 466.1C982.3 468.7 981.4 472 980.2 475C979 477.9 977.4 481.2 975.4 483.8C973.4 486.3 970.6 488.7 968.2 490.2C965.8 491.7 963 492.7 960.9 493C958.9 493.3 957.5 492.4 956.1 491.8C954.8 491.2 953.5 489.8 952.9 489.4"/>
<path d="M951.3 481C951.3 481.7 951.1 484 951.3 485.4C951.6 486.8 952.7 488.7 952.9 489.4"/>
<path d="M966.6 454.5C967.2 454.2 969.2 453.2 970.6 452.9C971.9 452.6 973.9 452.6 974.6 452.5"/>
<path d="M977.4 466.1C977.2 465.3 976.8 462.6 976.2 461.3C975.6 460.1 974.7 459.1 973.8 458.5C972.8 458 971.9 457.8 970.6 458.1C969.2 458.4 967.4 458.9 965.8 460.1C964.2 461.3 962.4 463.4 960.9 465.3C959.5 467.3 957.9 469.6 956.9 471.7C956 473.9 955.5 476.3 955.3 478.2C955.2 480 955.5 481.7 956.1 483C956.8 484.2 958.1 485.2 959.3 485.8C960.5 486.3 962.1 486.3 963.4 486.2C964.6 486 966.4 485.2 967 485"/>
<path d="M822.1 633.9C821.6 633.7 820.5 632.7 818.9 632.7C817.3 632.7 814.8 632.9 812.5 633.9C810.2 634.9 807.5 636.5 805.3 638.7C803 640.8 800.5 643.9 798.8 646.7C797.2 649.5 796.2 652.7 795.6 655.5C795 658.3 795 661.3 795.2 663.5C795.5 665.8 796.5 667.8 797.2 669.1C798 670.5 798.7 670.8 799.7 671.5C800.6 672.3 802.3 673.1 802.9 673.4"/>
<path d="M822.1 633.9L853.4 652.7"/>
<path d="M802.9 673.4L831.7 690"/>
<path d="M853.4 652.7C854.2 653.2 856.9 654.2 858.2 655.5C859.5 656.8 860.5 658.4 861 660.3C861.5 662.2 861.7 664.2 861.4 666.7C861.1 669.3 860.2 672.6 859 675.6C857.8 678.5 856.2 681.8 854.2 684.4C852.2 686.9 849.4 689.3 847 690.8C844.6 692.3 841.8 693.3 839.7 693.6C837.7 693.9 836.3 693 834.9 692.4C833.6 691.8 832.3 690.4 831.7 690"/>
<path d="M830.1 681.6C830.1 682.3 829.9 684.6 830.1 686C830.4 687.4 831.5 689.3 831.7 690"/>
<path d="M845.4 655.1C846 654.8 848 653.8 849.4 653.5C850.7 653.2 852.7 653.2 853.4 653.1"/>
<path d="M856.2 666.7C856 665.9 855.6 663.2 855 661.9C854.4 660.7 853.5 659.7 852.6 659.1C851.6 658.6 850.7 658.4 849.4 658.7C848 659 846.2 659.5 844.6 660.7C843 661.9 841.2 664 839.7 665.9C838.3 667.9 836.7 670.2 835.7 672.3C834.8 674.5 834.3 676.9 834.1 678.8C834 680.6 834.3 682.3 834.9 683.6C835.6 684.8 836.9 685.8 838.1 686.4C839.3 686.9 840.9 686.9 842.2 686.8C843.4 686.6 845.2 685.8 845.8 685.6"/>
<path d="M767.6 372.5L767.6 398.8"/>
<path d="M957.7 388.8L957.7 441.3"/>
<path d="M848.9 687.8L848.9 711.5"/>
<path d="M851.4 762.8L920.2 725.3L920.2 778"/>
<path d="M687.4 497.5C688.2 497.9 690.9 499.3 692.2 500C693.4 500.8 694.4 501 695 501.9C695.5 502.8 695.6 504.1 695.4 505.5C695.1 506.9 693.7 509.5 693.4 510.3"/>
<path d="M712.2 477.4C712.3 478.2 713.5 479.5 712.6 482.2C711.8 484.9 708.1 490.1 707 493.4C705.9 496.8 705.6 499.5 705.8 502.3C706 505 707.8 508.7 708.2 510"/>
<path d="M659.3 459C659.6 459.9 660 462.8 660.9 464.6C661.8 466.3 664.2 468.6 664.9 469.4"/>
<path d="M677.3 430.1C678.1 429.7 680.2 428 681.7 427.7C683.3 427.4 685.8 428.4 686.6 428.5"/>
<ellipse cx="397.8" cy="259.2" rx="1.3" ry="1.6" transform="rotate(0 397.8 259.2)"/>
<ellipse cx="382.1" cy="269.2" rx="1.3" ry="1.6" transform="rotate(0 382.1 269.2)"/>
<path d="M401 267C401.6 267.6 403.6 269.2 404.3 270.8C405.1 272.4 405.3 275.6 405.5 276.6"/>
<path d="M131.7 665.1C128.1 667.3 116.4 672.4 110 677.8C103.6 683.3 97.8 690 93.4 697.8C88.9 705.6 85.3 715.1 83.4 724.5C81.4 734 80.9 743.4 81.7 754.5C82.5 765.7 84.7 779 88.4 791.2C92 803.5 97 815.7 103.4 827.9C109.8 840.2 117.3 853 126.7 864.6C136.2 876.3 149 888.8 160.1 898C171.2 907.2 183.4 914.4 193.4 919.7C203.4 925 212.3 927.7 220.1 929.7C227.9 931.6 234.3 932.2 240.1 931.4C246 930.5 249.6 927.6 255.2 924.7C260.7 921.8 270.4 915.8 273.5 914"/>
<path d="M131.7 665.1L255.2 594.4"/>
<path d="M273.5 914L396.9 841.9"/>
<path d="M90 724.5C91.1 721.2 92.8 710.3 96.7 704.5C100.6 698.7 106.7 692.8 113.4 689.5C120 686.2 128.4 684.2 136.7 684.5C145.1 684.8 154 686.7 163.4 691.2C172.9 695.6 184 702.8 193.4 711.2C202.9 719.5 211.8 730.6 220.1 741.2C228.5 751.8 236.8 762.9 243.5 774.6C250.2 786.2 255.7 798.5 260.2 811.3C264.6 824 268.5 839.1 270.2 851.3C271.8 863.5 271.8 875.2 270.2 884.6C268.5 894.1 265.2 901.9 260.2 908C255.2 914.1 246.9 918.7 240.1 921.3C233.4 924 222.9 923.3 219.5 923.7"/>
<path d="M255.2 594.4C257.1 591.6 261.6 582.2 266.8 577.7C272.1 573.3 279.1 569.8 286.8 567.7C294.6 565.7 304.1 564.3 313.5 565.4C323 566.5 333 569 343.6 574.4C354.1 579.8 366.4 588.3 376.9 597.8C387.5 607.2 397.5 618.3 406.9 631.1C416.4 643.9 425.8 660 433.6 674.5C441.4 688.9 448.9 703.9 453.6 717.8C458.4 731.7 461.2 745.6 462 757.9C462.8 770.1 461.2 781.2 458.7 791.2C456.2 801.2 452.3 811.1 447 817.9C441.7 824.7 430.3 829.6 427 831.9"/>
<path d="M260.2 587.7C263.5 586 273.5 579.3 280.2 577.1C286.8 574.8 292.4 574.2 300.2 574.4C308 574.6 319.4 576.3 326.9 578.4C334.4 580.5 342.2 585.4 345.2 586.7"/>
<path d="M255.2 594.4C256 593 257.1 588.7 260.2 586.1C263.2 583.4 271.3 579.7 273.5 578.4"/>
<path d="M346.9 581.7C351.9 585.5 367.5 595.1 376.9 604.4C386.4 613.8 395.3 625 403.6 637.8C411.9 650.6 420.3 666.7 427 681.2C433.6 695.6 440.1 711.7 443.6 724.5C447.1 737.3 447.9 746.8 448 757.9C448.1 769 446.6 781.2 444.3 791.2C442 801.2 437.5 811.3 434.3 817.9C431.1 824.6 426.8 829 425.3 831.3"/>
<path d="M396.9 841.9C399.4 841.6 406.9 841.3 411.9 839.6C417 837.9 422.2 836.7 427 831.9C431.7 827.2 436.7 819.2 440.3 811.3C443.9 803.4 447.1 791.8 448.6 784.6C450.2 777.3 449.5 770.7 449.6 767.9"/>
<path d="M152.7 667.1L173.4 656.1"/>
<path d="M185.1 651.8C187.2 652.2 193.7 652.8 197.4 654.5C201.2 656.1 205.8 660.6 207.5 661.8"/>
<path d="M188.4 654.5C190.1 654.9 195.7 655.7 198.4 657.1C201.2 658.5 204 661.9 205.1 662.8"/>
<path d="M187.4 681.8L209.5 669.5"/>
<path d="M153.4 672.8L170.1 680.5"/>
<path d="M220.1 711.2L243.5 696.2"/>
<path d="M255.2 696.2C257.5 698 265.6 702.9 269.5 707.2C273.4 711.5 277 719.4 278.5 721.9"/>
<path d="M256.8 702.8C258.5 704.2 264.1 707.8 266.8 711.2C269.6 714.5 272.4 720.9 273.5 722.9"/>
<path d="M253.5 743.9L275.2 734.5"/>
<path d="M221.1 717.8L243.5 744.5"/>
<path d="M278.5 787.9L300.2 777.9"/>
<path d="M307.5 777.9C308.8 780.4 313.6 787.2 315.2 792.9C316.8 798.6 316.6 808.8 316.9 811.9"/>
<path d="M305.2 784.6C306.1 786.8 309.6 793.2 310.9 797.9C312.1 802.6 312.5 810.4 312.9 812.9"/>
<path d="M288.5 834.6L310.2 822.9"/>
<path d="M273.5 804.6L280.8 831.3"/>
<path d="M288.5 874.6L308.5 864.6"/>
<path d="M310.2 864.6C311.1 865.5 315.6 865.7 315.5 869.6C315.4 873.5 310.5 884.9 309.5 888"/>
<path d="M308.5 869.6C308.8 870.5 310.6 871.9 310.2 874.6C309.8 877.4 306.9 884.4 306.2 886.3"/>
<path d="M276.8 904.7L298.5 894.7"/>
<path d="M278.5 888L273.5 904.7"/>
<path d="M231.1 540.4L231.1 607.8"/>
<path d="M486.3 616.7C485.1 617.3 481.4 618.5 479.2 620.5C477.1 622.6 474.9 625.7 473.5 628.9C472 632.1 470.7 636.2 470.5 639.8C470.3 643.3 470.9 647.2 472.2 650C473.4 652.9 475.7 655.3 478 657.1C480.2 658.9 483.1 660.4 485.7 660.9C488.2 661.5 491.2 660.8 493.4 660.3C495.5 659.8 497.6 658.2 498.5 657.7"/>
<path d="M486.3 616.7C487.5 616.5 490.7 615.3 493.4 615.7C496 616 499.7 617.3 502.3 618.6C505 620 507.8 621.9 509.4 623.7C511 625.6 511.5 627.6 512 629.5C512.5 631.4 512.3 634.3 512.3 635.3"/>
<path d="M495.3 623.1C496 622.7 498.2 620.9 499.8 620.5C501.4 620.2 504.1 621.1 504.9 621.2"/>
<path d="M479.2 649.4C479.5 650.4 479.9 653.5 480.5 655.2C481.2 656.9 482.7 658.9 483.1 659.7"/>
<path d="M502.3 630.8L594.7 682.1"/>
<path d="M488.2 651.3L583.2 704.6"/>
<path d="M594.7 682.1C595.4 682.8 597.8 684.3 598.6 686C599.4 687.7 599.8 690.2 599.6 692.4C599.4 694.5 598.5 696.9 597.3 698.8C596 700.7 594 702.8 592.2 703.9C590.3 705 587.9 705.4 586.4 705.5C584.9 705.6 583.7 704.7 583.2 704.6"/>
<path d="M503.6 631.4C502.7 631.7 499.7 631.9 497.9 633.1C496 634.3 494.1 636.4 492.7 638.5C491.3 640.6 490 643.2 489.5 645.5C489 647.9 489.7 651.2 489.8 652.3"/>
<path d="M507.4 633.6C506.4 633.8 503.5 634 501.6 635.2C499.8 636.4 497.9 638.5 496.5 640.6C495.1 642.7 493.8 645.4 493.3 647.7C492.8 650 493.5 653.3 493.6 654.5"/>
<path d="M511.2 635.7C510.2 635.9 507.2 636.2 505.4 637.3C503.6 638.5 501.7 640.7 500.3 642.7C498.9 644.8 497.6 647.5 497.1 649.8C496.6 652.1 497.3 655.5 497.3 656.6"/>
<path d="M515 637.8C514 638.1 511 638.3 509.2 639.5C507.4 640.6 505.5 642.8 504.1 644.8C502.7 646.9 501.4 649.6 500.9 651.9C500.4 654.2 501.1 657.6 501.1 658.7"/>
<path d="M518.8 639.9C517.8 640.2 514.8 640.4 513 641.6C511.2 642.7 509.2 644.9 507.9 647C506.5 649 505.1 651.7 504.7 654C504.2 656.3 504.9 659.7 504.9 660.8"/>
<path d="M522.6 642C521.6 642.3 518.6 642.5 516.8 643.7C515 644.9 513 647 511.6 649.1C510.3 651.2 508.9 653.8 508.4 656.1C507.9 658.4 508.7 661.8 508.7 662.9"/>
<path d="M526.3 644.1C525.4 644.4 522.4 644.6 520.6 645.8C518.7 647 516.8 649.1 515.4 651.2C514 653.3 512.7 655.9 512.2 658.3C511.7 660.6 512.4 663.9 512.5 665.1"/>
<path d="M530.1 646.3C529.2 646.5 526.2 646.7 524.3 647.9C522.5 649.1 520.6 651.2 519.2 653.3C517.8 655.4 516.5 658.1 516 660.4C515.5 662.7 516.2 666 516.3 667.2"/>
<path d="M533.9 648.4C532.9 648.7 529.9 648.9 528.1 650C526.3 651.2 524.4 653.4 523 655.4C521.6 657.5 520.3 660.2 519.8 662.5C519.3 664.8 520 668.2 520 669.3"/>
<path d="M537.7 650.5C536.7 650.8 533.7 651 531.9 652.2C530.1 653.3 528.2 655.5 526.8 657.5C525.4 659.6 524.1 662.3 523.6 664.6C523.1 666.9 523.8 670.3 523.8 671.4"/>
<path d="M541.5 652.6C540.5 652.9 537.5 653.1 535.7 654.3C533.9 655.5 532 657.6 530.6 659.7C529.2 661.7 527.9 664.4 527.4 666.7C526.9 669 527.6 672.4 527.6 673.5"/>
<path d="M545.3 654.7C544.3 655 541.3 655.2 539.5 656.4C537.7 657.6 535.7 659.7 534.4 661.8C533 663.9 531.6 666.5 531.1 668.8C530.7 671.1 531.4 674.5 531.4 675.6"/>
<path d="M549 656.8C548.1 657.1 545.1 657.3 543.3 658.5C541.5 659.7 539.5 661.8 538.1 663.9C536.7 666 535.4 668.6 534.9 671C534.4 673.3 535.1 676.6 535.2 677.8"/>
<path d="M552.8 659C551.9 659.2 548.9 659.4 547.1 660.6C545.2 661.8 543.3 663.9 541.9 666C540.5 668.1 539.2 670.8 538.7 673.1C538.2 675.4 538.9 678.7 539 679.9"/>
<path d="M556.6 661.1C555.7 661.4 552.7 661.6 550.8 662.7C549 663.9 547.1 666.1 545.7 668.1C544.3 670.2 543 672.9 542.5 675.2C542 677.5 542.7 680.9 542.8 682"/>
<path d="M560.4 663.2C559.4 663.5 556.4 663.7 554.6 664.9C552.8 666 550.9 668.2 549.5 670.2C548.1 672.3 546.8 675 546.3 677.3C545.8 679.6 546.5 683 546.5 684.1"/>
<path d="M564.2 665.3C563.2 665.6 560.2 665.8 558.4 667C556.6 668.2 554.7 670.3 553.3 672.4C551.9 674.4 550.6 677.1 550.1 679.4C549.6 681.7 550.3 685.1 550.3 686.2"/>
<path d="M568 667.4C567 667.7 564 667.9 562.2 669.1C560.4 670.3 558.5 672.4 557.1 674.5C555.7 676.6 554.3 679.2 553.9 681.5C553.4 683.8 554.1 687.2 554.1 688.3"/>
<path d="M571.8 669.5C570.8 669.8 567.8 670 566 671.2C564.2 672.4 562.2 674.5 560.9 676.6C559.5 678.7 558.1 681.3 557.6 683.7C557.2 686 557.9 689.3 557.9 690.5"/>
<path d="M575.5 671.7C574.6 671.9 571.6 672.2 569.8 673.3C567.9 674.5 566 676.6 564.6 678.7C563.2 680.8 561.9 683.5 561.4 685.8C560.9 688.1 561.6 691.4 561.7 692.6"/>
<path d="M579.3 673.8C578.4 674.1 575.4 674.3 573.6 675.4C571.7 676.6 569.8 678.8 568.4 680.8C567 682.9 565.7 685.6 565.2 687.9C564.7 690.2 565.4 693.6 565.5 694.7"/>
<path d="M583.1 675.9C582.1 676.2 579.2 676.4 577.3 677.6C575.5 678.7 573.6 680.9 572.2 683C570.8 685 569.5 687.7 569 690C568.5 692.3 569.2 695.7 569.3 696.8"/>
<path d="M586.9 678C585.9 678.3 582.9 678.5 581.1 679.7C579.3 680.9 577.4 683 576 685.1C574.6 687.1 573.3 689.8 572.8 692.1C572.3 694.4 573 697.8 573 698.9"/>
<path d="M590.7 680.1C589.7 680.4 586.7 680.6 584.9 681.8C583.1 683 581.2 685.1 579.8 687.2C578.4 689.3 577.1 691.9 576.6 694.2C576.1 696.6 576.8 699.9 576.8 701"/>
<path d="M502.3 630.8C501.5 630.6 498.9 629.2 497.2 629.5C495.5 629.8 493.7 631 492.1 632.7C490.5 634.4 488.5 637.4 487.6 639.8C486.6 642.1 486.2 644.9 486.3 646.8C486.4 648.8 487.9 650.6 488.2 651.3"/>
<path d="M514.5 637.2L514.5 666.1"/>
<path d="M590.2 683.4C590.8 683.2 592.6 682.2 593.4 682.1C594.3 682 595 682.7 595.4 682.8"/>
<path d="M580.6 698.2L581.9 702.6"/>
<path d="M487 577.5L487 617.6"/>
<path d="M676.4 576.3L639.4 555.5L639.4 627.6"/>
<path d="M639.4 635.1L639.4 641.3"/>
<path d="M639.4 647.6L639.4 721.4L605.1 702.6"/>
<defs><pattern id="mesh" width="5.23" height="4.24" patternUnits="userSpaceOnUse" patternTransform="translate(4.42 2.4)"><path d="M0 0.5H5.23M0.5 0V4.24" style="stroke:#3d3d3d;stroke-width:1.15;fill:none;stroke-linecap:butt"/></pattern><clipPath id="cin"><path d="M554.4 839.3C554.5 835.6 554.6 831.5 555.7 827.6C556.8 823.7 558.2 819.9 560.8 816C563.4 812.1 566.2 808.8 571.1 804.5C576 800.2 582.2 795.4 590.3 790.3C598.4 785.1 610.7 778.7 619.9 773.6C629.1 768.5 637 763.7 645.5 759.5C654 755.3 663.8 751.4 671.2 748.6C678.6 745.8 682.6 744.1 690 742.6C697.4 741.1 709 739.9 715.4 739.4C721.8 738.9 724.8 738.9 728.2 739.4C731.6 739.9 734 741.3 735.9 742.6C737.8 743.9 739 745.7 739.8 747.1C740.5 748.5 739.5 749.4 740.4 750.9C741.2 752.4 742.6 754.5 744.9 756.1C747.1 757.7 750.7 759.6 753.9 760.6C757.1 761.6 760.8 761.9 764.2 761.9C767.6 761.9 771.5 761.2 774.5 760.6C777.5 760 780.1 759 782.2 758C784.3 757 785.2 755.6 787.3 754.8C789.4 753.9 792.4 753.1 795 752.9C797.6 752.6 800.1 752.5 802.7 753.3C805.3 754 807.6 755.5 810.4 757.4C813.2 759.2 816.4 761.8 819.4 764.4C822.4 767 825.8 769.7 828.4 772.8C831 775.9 833 779.4 834.8 783C836.6 786.6 838.3 791 839.3 794.6C840.3 798.2 840.7 801 840.6 804.9C840.5 808.8 840.6 813.1 838.6 818C836.6 822.9 832.2 829.5 828.4 834.1C824.5 838.7 820.2 842.2 815.5 845.7C810.8 849.2 807.1 851.1 800.1 855.3C793.1 859.5 781.3 866.1 773.2 870.7C765.1 875.3 759.2 879.1 751.3 882.9C743.4 886.6 734.2 890.4 725.7 893.2C717.2 896 706 898.4 700 899.6C694 900.8 694.1 899.9 690 900.2C685.9 900.5 679.7 901.3 675.1 901.5C670.5 901.7 665.6 902 662.2 901.5C658.8 901 656.1 899.7 654.5 898.3C652.9 896.9 653.7 895.1 652.6 893.2C651.5 891.3 650.1 888.6 648.1 886.8C646.1 885 643.4 883.5 640.4 882.3C637.4 881.1 633.5 880 630.1 879.7C626.7 879.4 622.9 879.8 619.9 880.3C616.9 880.8 614.6 881.8 612.2 882.9C609.8 884 608.1 885.8 605.7 886.8C603.3 887.8 600.8 888.6 598 888.7C595.2 888.8 591.8 888.4 589 887.4C586.2 886.4 584.3 885.1 581.3 882.9C578.3 880.6 574.5 877.3 571.1 873.9C567.7 870.5 563.5 866.5 560.8 862.4C558.1 858.3 556.1 853.4 555 849.5C553.9 845.6 554.3 842.9 554.4 839.3Z"/></clipPath></defs>
<g clip-path="url(#cin)"><path d="M618 772C617.5 775.7 615.6 786 614.7 794C613.8 802 612.9 811.5 612.5 820C612.1 828.5 612.2 838.3 612.5 845C612.8 851.7 613 853.5 614 860C615 866.5 617.8 880 618.5 884L540 890 L540 770 Z" style="fill:url(#mesh);stroke:none"/><path d="M784.2 752C784.9 755.5 787.6 767 788.6 772.8C789.6 778.6 789.9 781.5 790.5 786.9C791.1 792.2 791.8 798.7 792.4 804.9C793 811.1 794 818.2 794.4 824.1C794.8 830 794.7 834 794.5 840C794.3 846 793.3 856.7 793.1 860L860 860 L860 750 Z" style="fill:url(#mesh);stroke:none"/></g>
<path d="M544.1 839.1C544.3 835.2 544.3 830.4 545.4 826.3C546.5 822.2 547.7 819 550.5 814.7C553.3 810.4 557 805.3 562.1 800.6C567.2 795.9 574.2 791 581.3 786.5C588.4 782 595.9 778.4 604.5 773.6C613.1 768.8 623.7 762.3 632.7 757.6C641.7 752.9 648.9 749 658.4 745.4C667.9 741.8 678.8 738.2 690 735.8C701.2 733.4 715.5 732.2 725.7 731C735.9 729.8 744.4 728.7 751.3 728.5C758.1 728.3 761.6 728.8 766.8 729.8C771.9 730.8 777.1 732.3 782.2 734.3C787.3 736.3 792.1 739 797.6 742C803.1 745 810.4 748.8 815.5 752.2C820.6 755.6 824.3 759.1 828.4 762.5C832.5 765.9 836.9 769.4 839.9 772.8C842.9 776.2 844.6 779.4 846.3 783C848 786.6 849.3 791 850.2 794.6C851.1 798.2 851.5 800.7 851.5 804.9C851.5 809.1 851.3 815.1 850.2 820C849.1 824.9 847.7 829.6 845.1 834.1C842.5 838.6 839.7 842.5 834.8 847C829.9 851.5 825.8 854.7 815.5 861.1C805.2 867.5 783.9 879.3 773.2 885.5C762.5 891.7 759.2 894.8 751.3 898.3C743.4 901.8 734.2 904.5 725.7 906.7C717.2 909 706 910.7 700 911.8C694 912.9 696.9 912.2 690 913.1C683.1 914 664.5 915.5 658.4 916.9C652.3 918.3 654.9 920.4 653.2 921.4C651.5 922.4 651.5 922.5 648.1 922.7C644.7 922.9 637.8 923.2 632.7 922.7C627.6 922.2 622.1 920.9 617.3 919.5C612.5 918.1 607.2 916.4 603.8 914.4C600.4 912.4 599.7 909.5 596.8 907.3C593.9 905 590.8 903.7 586.5 900.9C582.2 898.1 576 894.7 571.1 890.6C566.2 886.5 560.9 881.2 557 876.5C553.1 871.8 550.1 866.9 548 862.4C545.9 857.9 544.8 853.4 544.1 849.5C543.5 845.6 543.9 843 544.1 839.1Z"/>
<path d="M554.4 839.3C554.5 835.6 554.6 831.5 555.7 827.6C556.8 823.7 558.2 819.9 560.8 816C563.4 812.1 566.2 808.8 571.1 804.5C576 800.2 582.2 795.4 590.3 790.3C598.4 785.1 610.7 778.7 619.9 773.6C629.1 768.5 637 763.7 645.5 759.5C654 755.3 663.8 751.4 671.2 748.6C678.6 745.8 682.6 744.1 690 742.6C697.4 741.1 709 739.9 715.4 739.4C721.8 738.9 724.8 738.9 728.2 739.4C731.6 739.9 734 741.3 735.9 742.6C737.8 743.9 739 745.7 739.8 747.1C740.5 748.5 739.5 749.4 740.4 750.9C741.2 752.4 742.6 754.5 744.9 756.1C747.1 757.7 750.7 759.6 753.9 760.6C757.1 761.6 760.8 761.9 764.2 761.9C767.6 761.9 771.5 761.2 774.5 760.6C777.5 760 780.1 759 782.2 758C784.3 757 785.2 755.6 787.3 754.8C789.4 753.9 792.4 753.1 795 752.9C797.6 752.6 800.1 752.5 802.7 753.3C805.3 754 807.6 755.5 810.4 757.4C813.2 759.2 816.4 761.8 819.4 764.4C822.4 767 825.8 769.7 828.4 772.8C831 775.9 833 779.4 834.8 783C836.6 786.6 838.3 791 839.3 794.6C840.3 798.2 840.7 801 840.6 804.9C840.5 808.8 840.6 813.1 838.6 818C836.6 822.9 832.2 829.5 828.4 834.1C824.5 838.7 820.2 842.2 815.5 845.7C810.8 849.2 807.1 851.1 800.1 855.3C793.1 859.5 781.3 866.1 773.2 870.7C765.1 875.3 759.2 879.1 751.3 882.9C743.4 886.6 734.2 890.4 725.7 893.2C717.2 896 706 898.4 700 899.6C694 900.8 694.1 899.9 690 900.2C685.9 900.5 679.7 901.3 675.1 901.5C670.5 901.7 665.6 902 662.2 901.5C658.8 901 656.1 899.7 654.5 898.3C652.9 896.9 653.7 895.1 652.6 893.2C651.5 891.3 650.1 888.6 648.1 886.8C646.1 885 643.4 883.5 640.4 882.3C637.4 881.1 633.5 880 630.1 879.7C626.7 879.4 622.9 879.8 619.9 880.3C616.9 880.8 614.6 881.8 612.2 882.9C609.8 884 608.1 885.8 605.7 886.8C603.3 887.8 600.8 888.6 598 888.7C595.2 888.8 591.8 888.4 589 887.4C586.2 886.4 584.3 885.1 581.3 882.9C578.3 880.6 574.5 877.3 571.1 873.9C567.7 870.5 563.5 866.5 560.8 862.4C558.1 858.3 556.1 853.4 555 849.5C553.9 845.6 554.3 842.9 554.4 839.3Z"/>
<path d="M544.1 826.4C544 828.5 543.3 835 543.5 839.3C543.7 843.6 544 847.6 545.4 852.1C546.8 856.6 549 861.7 551.8 866.2C554.6 870.7 558.2 875.2 562.1 879.1C566 883 570.2 886.1 574.9 889.3C579.6 892.5 585.7 895.8 590.3 898.3C594.9 900.8 600.5 903.1 602.5 904.1"/>
<path d="M648.7 911.8L689.2 907.3"/>
<path d="M847.6 820C846.5 821.9 844.4 827.5 841.2 831.6C838 835.7 833.8 839.9 828.4 844.4C823 848.9 818.3 852.7 809.1 858.5C799.9 864.3 780.9 874.8 773.2 879.1C765.5 883.4 764.6 883.4 762.9 884.2"/>
<path d="M850.8 807.4L849.6 817.7"/>
<path d="M603.2 772.4L607.7 773.6"/>
<path d="M618 772.4L621.8 773.6"/>
<path d="M772.5 871.5L773.8 869.5"/>
<path d="M772.5 879.9L773.8 877.9"/>
<path d="M772.5 886.3L773.8 884.3"/>
<path d="M619.2 889.3C618.6 889.9 615.9 891.8 615.4 893.2C614.9 894.6 615 896.4 616 897.7C617 899 619 900.1 621.1 900.9C623.2 901.6 626.2 902.3 628.8 902.2C631.4 902.1 634.6 901.3 636.5 900.2C638.4 899.1 639.9 897.1 640.4 895.7C640.9 894.3 640.4 893 639.8 891.9C639.1 890.8 637 889.7 636.5 889.3"/>
<ellipse cx="627.8" cy="897.9" rx="11.3" ry="4.1" transform="rotate(0 627.8 897.9)"/>
<path d="M756.5 741.3C755.8 741.9 752.6 743.8 752 745.2C751.4 746.6 751.6 748.4 752.6 749.7C753.6 751.1 755.6 752.5 757.8 753.3C759.9 754 762.8 754.3 765.5 754.2C768.2 754.1 771.6 753.8 773.8 752.9C776 752 778 750.3 778.9 749C779.8 747.7 779.8 746.4 779.3 745.2C778.8 744 776.3 742.3 775.7 741.7"/>
<ellipse cx="765.5" cy="749.7" rx="11.8" ry="4.1" transform="rotate(0 765.5 749.7)"/>
<path d="M850.9 763.4L919.6 725L919.6 778.4"/>
<ellipse cx="920.1" cy="795.2" rx="10.9" ry="4.8" transform="rotate(0 920.1 795.2)"/>
<path d="M909.2 795.2L909.2 828.1"/>
<path d="M931 795.2L931 828.1"/>
<path d="M909.2 802.1C910.1 802.7 912.7 804.7 914.5 805.3C916.3 806 918.2 806.1 920.1 806.1C922 806.1 923.9 806 925.7 805.3C927.5 804.7 930.1 802.7 931 802.1"/>
<path d="M909.2 807.7C910.1 808.3 912.7 810.3 914.5 811C916.3 811.6 918.2 811.8 920.1 811.8C922 811.8 923.9 811.6 925.7 811C927.5 810.3 930.1 808.3 931 807.7"/>
<path d="M909.2 813.4C910.1 813.9 912.7 815.9 914.5 816.6C916.3 817.2 918.2 817.4 920.1 817.4C922 817.4 923.9 817.2 925.7 816.6C927.5 815.9 930.1 813.9 931 813.4"/>
<path d="M909.2 819C910.1 819.5 912.7 821.5 914.5 822.2C916.3 822.8 918.2 823 920.1 823C922 823 923.9 822.8 925.7 822.2C927.5 821.5 930.1 819.5 931 819"/>
<path d="M909.2 824.6C910.1 825.1 912.7 827.1 914.5 827.8C916.3 828.5 918.2 828.6 920.1 828.6C922 828.6 923.9 828.5 925.7 827.8C927.5 827.1 930.1 825.1 931 824.6"/>
<path d="M909.2 828.1C910.1 828.7 912.7 830.7 914.5 831.3C916.3 832 918.2 832.1 920.1 832.1C922 832.1 923.9 832 925.7 831.3C927.5 830.7 930.1 828.7 931 828.1"/>
<path d="M909.2 812.9C907.5 813.7 901.7 815.6 899.2 817.7C896.8 819.8 895.5 824.4 894.8 825.7"/>
<path d="M931 812.9C932.7 813.7 938.6 815.6 940.9 817.7C943.3 819.8 944.3 824.4 945 825.7"/>
<path d="M894.8 825.7C894.8 826.6 894.2 828.2 895.2 831.3C896.3 834.4 898.3 840.7 900.9 844.2C903.4 847.6 907.3 850.4 910.5 852.2C913.7 853.9 916.9 854.6 920.1 854.6C923.3 854.6 926.5 853.9 929.7 852.2C932.9 850.4 936.9 847.6 939.3 844.2C941.7 840.7 943.2 834.4 944.2 831.3C945.1 828.2 944.8 826.6 945 825.7"/>
<path d="M895.2 829.7C895.8 830.4 897.1 832.7 898.4 833.7C899.8 834.8 902.5 835.7 903.3 836.1"/>
<path d="M935.3 836.1C936.3 835.7 939.5 834.7 940.9 833.7C942.4 832.8 943.6 831.1 944.2 830.5"/>
<path d="M898.4 838.5C900.2 839.3 905.3 842.3 908.9 843.4C912.5 844.4 916.4 845 920.1 845C923.8 845 927.7 844.6 931.3 843.4C934.9 842.1 940 838.7 941.7 837.7"/>
<path d="M945 825.4L989.1 825.4"/>
<path d="M499.8 1072.1C499.6 1066.6 500.2 1061.6 501.6 1056.6C503 1051.6 505.3 1046.6 508.1 1042.3C510.9 1038 513.8 1035.5 518.3 1030.8C522.8 1026.1 528.3 1019.2 535.1 1014.1C541.9 1008.9 548.5 1006.8 559.4 1000.1C570.2 993.3 588 981.4 600.2 973.3C612.3 965.2 621.5 957.7 632.2 951.5C642.9 945.3 653.7 940.1 664.4 936.3C675.2 932.4 685.8 930.3 696.5 928.5C707.2 926.7 718.1 925.7 728.7 925.2C739.4 924.8 749.6 925.2 760.3 926C770.9 926.8 781.7 927.6 792.5 930C803.3 932.4 814.8 936.1 825.1 940.5C835.3 944.9 845.1 950.3 854.1 956.3C863.1 962.2 872.4 969.9 879.1 976.3C885.9 982.7 890.9 988.5 894.6 994.5C898.3 1000.6 900.3 1006.6 901.4 1012.6C902.5 1018.5 902.9 1023.8 901.4 1030.1C899.9 1036.3 896.5 1044.4 892.4 1050.1C888.3 1055.8 883.7 1058.8 876.9 1064.1C870 1069.4 859.9 1076.3 851.3 1082.1C842.8 1087.9 834.2 1093.3 825.6 1098.9C817 1104.5 808.3 1110.1 799.8 1115.6C791.3 1121.2 782.8 1127 774.3 1132.2C765.7 1137.3 757.1 1142.5 748.5 1146.4C739.9 1150.3 731.3 1153 722.7 1155.4C714.2 1157.9 705.8 1159.9 697.2 1161.2C688.7 1162.5 679.3 1162.8 671.5 1163.2C663.6 1163.5 659 1163.6 650.2 1163.2C641.3 1162.8 628 1162 618.4 1160.7C608.9 1159.4 601.4 1157.8 592.9 1155.4C584.3 1153 575.7 1150 567.1 1146.4C558.5 1142.8 548.6 1138.1 541.4 1133.7C534.1 1129.2 528.7 1124.6 523.6 1119.6C518.5 1114.7 514 1109.1 510.6 1104.1C507.1 1099.2 504.6 1095.2 502.8 1089.9C501 1084.5 500 1077.7 499.8 1072.1Z"/>
<path d="M510.1 1069.4C510.5 1065.1 512.3 1061.1 514.6 1056.6C516.8 1052.1 520.2 1046.6 523.6 1042.3C527 1038 530.4 1035.1 535.1 1030.8C539.8 1026.6 544.1 1021.9 551.6 1016.8C559.1 1011.7 571.8 1005 579.9 1000.1C588 995.1 590.4 993.5 600.2 987C609.9 980.6 626.9 968 638.7 961.3C650.4 954.5 660 950.3 670.7 946.5C681.4 942.8 692.3 940.6 703 938.8C713.7 936.9 725.5 935.8 735 935.5C744.6 935.2 751.5 935.8 760.3 936.8C769 937.7 778.4 939.1 787.5 941.3C796.7 943.4 806.1 946.2 815.3 949.5C824.5 952.9 834.5 956.8 842.8 961.3C851.2 965.7 858.7 970.9 865.3 976.3C872 981.7 878.5 987.8 882.9 993.8C887.2 999.8 890.2 1006.5 891.6 1012.6C893.1 1018.6 892.9 1024.9 891.6 1030.1C890.4 1035.3 886.6 1040.5 884.1 1043.8C881.7 1047.2 882.3 1045.8 876.9 1050.1C871.4 1054.3 859.9 1063.4 851.3 1069.4C842.8 1075.4 834.2 1080.6 825.6 1086.1C817 1091.7 808.3 1097.1 799.8 1102.6C791.3 1108.2 782.8 1114 774.3 1119.4C765.7 1124.8 757.1 1130.6 748.5 1134.9C739.9 1139.2 731.3 1142.4 722.7 1145.2C714.2 1148 705.8 1150.4 697.2 1151.7C688.7 1152.9 679.3 1152.7 671.5 1152.7C663.6 1152.7 658.2 1152.4 650.2 1151.7C642.2 1151 632.4 1149.9 623.7 1148.4C615 1146.9 606.4 1145.1 597.9 1142.7C589.4 1140.2 580.5 1137.1 572.4 1133.7C564.2 1130.2 556 1126.2 549.1 1122.1C542.2 1118.1 536.2 1113.6 531.1 1109.1C526 1104.6 521.5 1099.6 518.3 1095.1C515.1 1090.7 513.2 1086.7 511.8 1082.4C510.5 1078.1 509.6 1073.6 510.1 1069.4Z"/>
<path d="M419.3 1176.4C420 1175.4 422.4 1171.6 423.8 1170.2C425.1 1168.7 426.9 1168.1 427.5 1167.7"/>
<path d="M427.5 1167.7L513.8 1119.4"/>
<path d="M419 1176.4C419 1183.3 418.4 1209.6 419 1217.7C419.6 1225.8 420.3 1223.3 422.5 1225.2C424.8 1227.1 428.4 1228.3 432.5 1229C436.7 1229.6 442.9 1229.3 447.5 1229C452.1 1228.6 456.3 1227.4 460 1227C463.8 1226.6 468.4 1226.6 470.1 1226.5"/>
<path d="M419 1176.4L419 1217.7"/>
<path d="M419.3 1178.9L477.6 1215.2"/>
<path d="M436.8 1200.2L464.3 1216.5L515.1 1244.5L626.4 1308.3"/>
<path d="M464.3 1216.5C465.3 1218.1 467.8 1223.8 470.1 1226.5C472.3 1229.2 476.3 1231.7 477.6 1232.7"/>
<path d="M477.6 1232.7L515.1 1253.2L621.4 1312.8"/>
<path d="M460 1227.7C460.9 1229 463 1233.1 465 1235.2C467.1 1237.3 471.3 1239.4 472.6 1240.2"/>
<path d="M472.6 1240.2L515.1 1264L622.7 1325.3"/>
<path d="M575.1 1269.8L615.7 1293.3"/>
<path d="M665.2 1031.3L737.5 989.3"/>
<path d="M737.5 989.3C739.4 988.8 745 986.5 748.8 986.3C752.5 986.1 758.1 987.8 760 988"/>
<path d="M760 988L772.5 995.5L828.8 1028.1L835.1 1030.6L867.6 1049.6"/>
<path d="M888.9 1063.9L970.2 1111.4"/>
<path d="M970.2 1111.4C970.9 1112 973.6 1113.7 974.4 1115.1C975.3 1116.6 975.1 1119.3 975.2 1120.1"/>
<path d="M975.2 1120.1C975.2 1126.4 975.6 1150.5 975.2 1157.7C974.8 1164.8 974.3 1161.5 972.7 1163.2C971 1164.8 968.5 1166.5 965.2 1167.7C961.8 1168.8 961 1169.1 952.7 1170.2C944.3 1171.3 921.4 1173.7 915.1 1174.4"/>
<path d="M975.2 1120.1L975.2 1157.7"/>
<path d="M974.4 1121.4L901.4 1164.4"/>
<path d="M951.9 1151.4L915.1 1173.2L840.1 1215.2L776 1254L715.2 1289L660.7 1320.3"/>
<path d="M897.6 1183.9C897 1185.2 896.2 1188.5 893.9 1191.4C891.6 1194.4 885.5 1199.8 883.9 1201.5"/>
<path d="M883.9 1201.5L840.1 1226.5L776 1264L732.7 1289"/>
<path d="M732.7 1289C726.5 1292.6 705 1305.7 695.2 1310.3C685.4 1314.9 677.5 1315.5 674 1316.5"/>
<path d="M620.2 1297.8C622.3 1299 628.5 1303.5 632.7 1305.3C636.8 1307 641.4 1308.1 645.2 1308.3C648.9 1308.5 653.5 1306.8 655.2 1306.5"/>
<path d="M655.2 1306.5L682.7 1290.8L737.8 1257"/>
<path d="M623.2 1309C623.2 1313.4 622.4 1329.7 623.2 1335.3C623.9 1340.9 625.5 1340.8 627.7 1342.8C629.9 1344.8 632.9 1346.2 636.4 1347.1C640 1347.9 645.2 1348.3 648.9 1347.8C652.7 1347.3 656.2 1345.9 658.9 1344.1C661.7 1342.2 664.2 1337.8 665.2 1336.6"/>
<path d="M623.2 1309L623.2 1335.3"/>
<path d="M665.2 1336.6L674 1312.8"/>
<path d="M620.2 1308.3L627.2 1310.8"/>
<path d="M438.8 1171.4C438 1172.1 434.9 1173.5 434.3 1175.2C433.7 1176.9 433.7 1179.7 435 1181.4C436.4 1183.2 439.6 1185 442.5 1185.7C445.5 1186.4 449.4 1186.4 452.5 1185.7C455.7 1185 459.4 1183 461.3 1181.4C463.2 1179.9 464.1 1178.2 463.8 1176.4C463.5 1174.6 460 1171.6 459.3 1170.7"/>
<path d="M635.2 1282.8C634.4 1283.8 631.1 1286.9 630.7 1289C630.3 1291.1 630.9 1293.5 632.7 1295.3C634.5 1297 638.3 1299 641.4 1299.5C644.6 1300 648.5 1299.4 651.4 1298.3C654.4 1297.2 657.5 1294.6 658.9 1292.8C660.4 1290.9 660.7 1288.7 660.2 1287C659.7 1285.3 656.4 1283.5 655.7 1282.8"/>
<path d="M935.7 1111.4C934.9 1112 932 1113.5 931.4 1115.1C930.8 1116.8 930.6 1119.6 931.9 1121.4C933.1 1123.1 936.3 1124.8 938.9 1125.6C941.5 1126.5 944.7 1126.8 947.7 1126.4C950.6 1126 954.3 1124.6 956.4 1123.1C958.5 1121.7 960.3 1119.6 960.2 1117.6C960 1115.7 956.4 1112.4 955.7 1111.4"/>
<path d="M741.3 996.3C740.2 997.3 735.6 1000.5 735 1002.6C734.4 1004.6 735.4 1007.1 737.5 1008.8C739.6 1010.5 744 1012.4 747.5 1012.6C751.1 1012.8 755.9 1011.5 758.8 1010.1C761.6 1008.6 764.3 1006 764.5 1003.8C764.7 1001.6 760.8 998.2 760 997.1"/>
<path d="M512.6 1127.6C510.1 1129.9 501.7 1136 497.6 1141.4C493.4 1146.8 489.8 1153.9 487.6 1160.2C485.4 1166.4 484.3 1172.7 484.3 1178.9C484.3 1185.2 485.4 1191.7 487.6 1197.7C489.8 1203.7 493 1210 497.6 1215.2C502.2 1220.4 508.8 1225 515.1 1229C521.3 1232.9 526.6 1235.2 535.1 1239C543.6 1242.7 555 1247.7 565.9 1251.5C576.7 1255.2 591.1 1259 600.2 1261.5C609.2 1264 610.6 1265.4 620.2 1266.5C629.8 1267.6 645.2 1268.9 657.7 1268.3C670.2 1267.6 682.7 1265.8 695.2 1262.7C707.7 1259.7 719.3 1256 732.7 1250.2C746.2 1244.5 758.1 1237.8 776 1228.2C793.9 1218.6 824.2 1201.5 840.1 1192.7C856 1183.9 863.4 1180.2 871.4 1175.2C879.3 1170.2 882.8 1167.5 887.6 1162.7C892.4 1157.9 896.8 1152.3 900.1 1146.4C903.5 1140.6 906.1 1133.7 907.6 1127.6C909.2 1121.6 909.8 1116.4 909.4 1110.1C909 1103.9 907.5 1095.7 905.1 1090.1C902.8 1084.5 898.7 1079.8 895.1 1076.4C891.6 1072.9 885.7 1070.5 883.9 1069.4"/>
<path d="M529.3 1130.2C527 1131.6 520 1134.7 515.1 1138.9C510.2 1143.1 504.2 1150.2 500.1 1155.2C495.9 1160.2 491.7 1166.6 490.1 1168.9"/>
<path d="M533.1 1135.2C530.1 1137.4 519.8 1144.3 515.1 1148.9C510.4 1153.5 507.4 1158.3 505.1 1162.7C502.8 1167.1 501.9 1171.2 501.3 1175.2C500.8 1179.1 500.8 1182.1 501.8 1186.4C502.9 1190.8 505.4 1196.7 507.6 1201.5C509.8 1206.2 509.9 1210 515.1 1215.2C520.3 1220.4 528.8 1228.1 538.9 1232.7C548.9 1237.3 566.6 1240.6 575.1 1242.7C583.7 1244.8 587.6 1244.8 590.1 1245.2"/>
<path d="M541.4 1137.7C538.2 1139.9 527 1147.7 522.6 1151.4C518.2 1155.2 517.4 1156.6 515.1 1160.2C512.8 1163.7 510 1168.9 508.8 1172.7C507.7 1176.4 507 1178.9 508.1 1182.7C509.1 1186.4 512.7 1191.4 515.1 1195.2C517.5 1199 518.4 1201.7 522.6 1205.2C526.8 1208.8 532.9 1212.3 540.1 1216.5C547.3 1220.6 557.5 1226.5 565.9 1230.2C574.2 1234 581.1 1236.7 590.1 1239C599.2 1241.3 606.8 1243.2 620.2 1244C633.5 1244.8 657.7 1244.7 670.2 1244C682.7 1243.2 685.2 1242.2 695.2 1239.5C705.2 1236.8 719.8 1231.8 730.2 1227.7C740.7 1223.7 750.1 1219.3 757.8 1215.2C765.4 1211.1 762.3 1211.5 776 1203.2C789.8 1194.9 826.9 1172.9 840.1 1165.2C853.3 1157.5 850.5 1159.4 855.1 1156.9C859.7 1154.4 863.6 1153 867.6 1150.2C871.6 1147.4 875.9 1143.5 878.9 1140.2C881.8 1136.8 883.8 1133.9 885.1 1130.2C886.4 1126.4 887.1 1121.6 886.9 1117.6C886.7 1113.7 885.6 1110.1 883.9 1106.4C882.1 1102.6 879.7 1099 876.4 1095.1C873 1091.2 865.9 1085.1 863.8 1083.1"/>
<path d="M503.8 1201.5C504.9 1203.7 507.8 1211.5 510.1 1215.2C512.4 1219 513 1220.4 517.6 1224C522.2 1227.5 534.3 1234.4 537.6 1236.5"/>
<path d="M721.5 1238.2C725.5 1236.5 736.2 1232.3 745.3 1227.7C754.3 1223.1 762.7 1217.8 776 1210.7C789.4 1203.6 811.7 1191.4 825.3 1185.2C838.9 1178.9 849.5 1176.9 857.6 1173.2C865.7 1169.4 869.5 1166.1 873.9 1162.7C878.2 1159.3 881.2 1156.4 883.9 1152.7C886.6 1148.9 889.1 1142.2 890.1 1140.2"/>
<path d="M892.6 1130.2C892.6 1128.1 893 1121.8 892.6 1117.6C892.2 1113.5 891.8 1109.3 890.1 1105.1C888.4 1101 885.7 1096.6 882.6 1092.6C879.5 1088.7 873.2 1083.2 871.4 1081.4"/>
<path d="M878.1 1077.6C880.1 1079.3 886.4 1083.9 890.1 1087.6C893.8 1091.4 897.5 1096 900.1 1100.1C902.7 1104.3 904.7 1110.6 905.6 1112.6"/>
<path d="M696.5 1229C699.4 1229.1 708.4 1229.8 714 1229.5C719.6 1229.1 727.5 1227.4 730.2 1227"/>
<path d="M536.9 1106.6L665.2 1032.6"/>
<path d="M542.1 1110.6L681.5 1030.3"/>
<path d="M549.1 1118.9L650.2 1061.6"/>
<path d="M625.2 1075.6C629.3 1073.3 635.7 1067.1 650.2 1061.6C664.7 1056.1 699.5 1046.2 712 1042.6C724.5 1039 716.6 1040.7 725 1040.1C733.4 1039.5 750 1038 762.5 1038.8C775 1039.7 788.8 1042.4 800.1 1045.1C811.3 1047.8 821.7 1051.8 830.1 1055.1C838.4 1058.4 846.8 1063.4 850.1 1065.1"/>
<path d="M555.6 1122.1L692.7 1043.1"/>
<path d="M564.6 1124.4L647.7 1076.6"/>
<path d="M802.6 1030.1C805.1 1030.3 811.3 1029.7 817.6 1031.3C823.8 1033 832.2 1036.5 840.1 1040.1C848 1043.6 860.9 1050.5 865.1 1052.6"/>
<path d="M808.8 1033.8C812.4 1034.7 822.4 1036.1 830.1 1038.8C837.8 1041.5 850.9 1048.2 855.1 1050.1"/>
<path d="M792.5 1052.6C795.9 1053 805.5 1053.2 812.6 1055.1C819.6 1057 829.2 1061.3 835.1 1063.9C840.9 1066.4 845.5 1069.1 847.6 1070.1"/>
<path d="M795 1056.3C798.8 1057.2 810.3 1059.3 817.6 1061.3C824.9 1063.4 835.3 1067.6 838.8 1068.9"/>
<path d="M803.8 1030.6L810.1 1028.1L830.1 1029.6"/>
<path d="M522.6 1173.9C523 1175.2 523.8 1179.6 525.1 1181.4C526.3 1183.3 529.3 1184.6 530.1 1185.2"/>
<path d="M528.8 1182.7L577.6 1155.2"/>
<path d="M530.1 1185.2C533.4 1185.2 545.9 1186 550.1 1185.2C554.3 1184.4 553 1181.2 555.1 1180.2C557.2 1179.1 560.1 1178.7 562.6 1178.9C565.1 1179.1 568.5 1180.4 570.1 1181.4C571.8 1182.5 572.2 1184.6 572.6 1185.2"/>
<path d="M572.6 1185.2C579.7 1184.4 607 1181.6 615.2 1180.2C623.3 1178.7 620.4 1177.7 621.4 1176.4C622.5 1175.2 621.4 1173.3 621.4 1172.7"/>
<path d="M536.4 1191.4L550.1 1190.2"/>
<path d="M575.1 1187.7L615.2 1183.9"/>
<path d="M550.1 1196.4L550.1 1207.7"/>
<path d="M571.4 1193.9L571.4 1206.5"/>
<path d="M538.9 1215.2C540.7 1215 547.4 1213.8 550.1 1214C552.8 1214.2 552.6 1216 555.1 1216.5C557.6 1216.9 562.2 1217.1 565.1 1216.5C568 1215.8 568.3 1213.8 572.6 1212.7C577 1211.7 588.3 1210.6 591.4 1210.2"/>
<path d="M602.7 1165.2C601.8 1167.3 598.9 1175 597.6 1177.7C596.4 1180.4 595.6 1180.8 595.1 1181.4"/>
<path d="M660.2 1166.9C660.1 1168.3 660.7 1173 659.4 1175.2C658.2 1177.4 653.8 1179.4 652.7 1180.2"/>
<path d="M620.2 1192.7C618.1 1193.9 611 1197.7 607.7 1200.2C604.3 1202.7 601.8 1205.2 600.2 1207.7C598.5 1210.2 598.1 1214 597.6 1215.2"/>
<path d="M597.6 1217.7C598.9 1220.2 602 1228.6 605.2 1232.7C608.3 1236.9 614.5 1241.1 616.4 1242.7"/>
<path d="M625.7 1183.9C628.9 1186.7 637.8 1195.6 645.2 1200.2C652.6 1204.8 660.8 1208.7 670.2 1211.5C679.6 1214.3 691.1 1216.8 701.5 1217C711.9 1217.2 723.4 1214.9 732.7 1212.7C742.1 1210.5 750.6 1207.1 757.8 1204C765 1200.8 771.7 1197.1 776 1193.9C780.4 1190.8 782.1 1189 784 1185.2C786 1181.4 787 1174.3 787.5 1170.9C788 1167.6 787.1 1166.1 787 1165.2"/>
<path d="M620.2 1193.2C622.3 1195.4 627.5 1202.4 632.7 1206.5C637.9 1210.5 644.5 1214.5 651.4 1217.7C658.4 1220.9 670.6 1224.4 674.5 1225.7"/>
<path d="M671.5 1188.9C674.4 1189.9 682.9 1193.4 689 1194.4C695 1195.5 701 1196 707.7 1195.2C714.5 1194.4 725.9 1190.4 729.5 1189.4"/>
<path d="M620.2 1160.7C624.3 1161.1 636.8 1162.8 645.2 1163.2C653.5 1163.5 660.8 1163.3 670.2 1162.7C679.6 1162 690 1161.5 701.5 1159.4C712.9 1157.3 732.7 1151.7 739 1150.2"/>
<path d="M622.7 1145.2C627.3 1143.1 640.6 1136 650.2 1132.7C659.8 1129.3 669.9 1126.8 680.2 1125.1C690.5 1123.5 703.6 1122.9 712 1122.6C720.3 1122.4 724.7 1123.1 730.2 1123.9C735.8 1124.7 742.8 1127 745.3 1127.6"/>
<path d="M601.4 1139.7C609.5 1135.2 632.7 1120.9 650.2 1112.6C667.7 1104.4 697.1 1093.9 706.5 1090.1"/>
<path d="M664.4 1244C664.4 1242.7 663.9 1238.5 664.4 1236.5C665 1234.5 666.1 1233.1 667.7 1232C669.3 1230.8 671.7 1229.7 674 1229.5C676.2 1229.3 679.4 1229.8 681.5 1230.7C683.5 1231.7 685.4 1233.6 686.5 1235.2C687.5 1236.8 687.5 1239.4 687.7 1240.2"/>
<path d="M682.7 1215.7C683 1216.5 684.7 1217.8 684.5 1220.2C684.3 1222.6 682 1228.6 681.5 1230.2"/>
<path d="M690.2 1229L688.2 1240.2"/>
<path d="M682.7 1137.7C682.7 1136.4 681.9 1131.6 682.7 1130.2C683.5 1128.7 682.8 1129.3 687.7 1128.9C692.6 1128.5 707.9 1127.9 712 1127.6"/>
<path d="M682.7 1137.7L691.5 1141.4L691.5 1150.2"/>
<path d="M691.5 1135.2L712 1133.9"/>
<path d="M691.5 1135.2L691.5 1145.2"/>
<path d="M660.2 1145.2C661 1144.3 662.7 1140.6 665.2 1140.2C667.7 1139.7 672.3 1142.9 675.2 1142.7C678.1 1142.5 681.5 1139.5 682.7 1138.9"/>
<path d="M665.2 1140.2L672.7 1150.2"/>
<path d="M687.7 1163.9L695.2 1165.7L707.7 1165.7L719.5 1171.9L726.5 1166.4L726.5 1155.2"/>
<path d="M719.5 1171.9L719.5 1181.4"/>
<path d="M726.5 1166.4L736.5 1170.2L730.2 1176.9"/>
<path d="M734 1159.4L737 1161.9L737 1172.7"/>
<path d="M740.8 1156.9C740.9 1159.5 740.1 1168.8 741.5 1172.7C742.9 1176.6 747.8 1178.9 749 1180.2"/>
<path d="M707.5 1055.1C708.1 1053.8 709.1 1049.3 711.2 1047.6C713.3 1045.8 717.1 1044.6 720 1044.6C722.9 1044.6 726.9 1045.8 728.7 1047.6C730.6 1049.3 730.8 1053.8 731.2 1055.1"/>
<path d="M707.5 1055.1L707.5 1102.6"/>
<path d="M731.2 1055.1L729.5 1090.1"/>
<path d="M707.5 1102.6C708.3 1103.5 710.6 1107 712.5 1107.6C714.4 1108.3 717.7 1106.6 718.7 1106.4"/>
<path d="M707.5 1055.1C708.5 1055.8 711 1058.6 713.7 1059.3C716.4 1060.1 720.8 1060.3 723.7 1059.6C726.7 1058.9 730 1055.8 731.2 1055.1"/>
<path d="M737.5 1052.6L718.7 1117.6"/>
<path d="M741.3 1062.6L725 1116.4"/>
<path d="M747.5 1063.9L747.5 1077.6"/>
<path d="M736.3 1053.8L733.8 1065.1"/>
<path d="M741.3 1090.1C740.6 1093.5 738.8 1104.5 737.5 1110.1C736.3 1115.8 734.4 1121.6 733.8 1123.9"/>
<path d="M757.5 1086.4C761.7 1086.6 773.8 1086.4 782.5 1087.6C791.3 1088.9 805.5 1092.8 810.1 1093.9"/>
<path d="M836.3 1102.6C840.3 1104.7 853 1110.6 860.1 1115.1C867.2 1119.7 875.7 1127.6 878.9 1130.2"/>
<path d="M787.5 1162.7C793.8 1162 818 1160.4 825.1 1158.9C832.2 1157.5 828.2 1155 830.1 1153.9C831.9 1152.9 834 1152.5 836.3 1152.7C838.6 1152.9 840.3 1154.5 843.8 1155.2C847.4 1155.8 855.3 1156.2 857.6 1156.4"/>
<path d="M790 1167.7L827.6 1163.9"/>
<path d="M827.6 1166.4L827.6 1173.9"/>
<path d="M769.5 1141.9C771.9 1143.7 779.8 1149.5 784 1152.7C788.2 1155.9 793 1159.8 794.8 1161.2"/>
<path d="M790 1177.7L788.8 1190.2"/>
<ellipse cx="700.3" cy="1363.4" rx="39.1" ry="23.4" transform="rotate(0 700.3 1363.4)"/>
<ellipse cx="700.3" cy="1365.3" rx="28.2" ry="14.1" transform="rotate(0 700.3 1365.3)"/>
<path d="M661.2 1366.6C661.5 1368 660.2 1371.6 663.1 1374.9C666 1378.2 672.3 1383.7 678.5 1386.5C684.7 1389.2 693 1391.2 700.3 1391.2C707.6 1391.2 715.9 1389.2 722.1 1386.5C728.3 1383.7 734.6 1378.2 737.5 1374.9C740.4 1371.6 739.1 1368 739.4 1366.6"/>
<path d="M672.1 1363.6C672.3 1362.5 672.3 1359.3 673.6 1357.2C674.9 1355.1 678.7 1352.2 679.8 1351.2"/>
<path d="M720.8 1351.2C721.9 1352.2 725.7 1355.1 727 1357.2C728.3 1359.3 728.3 1362.5 728.5 1363.6"/>
<path d="M666.9 1373.6C667.3 1374.1 668.4 1375.4 669.3 1376.2C670.1 1376.9 671.6 1377.8 672.1 1378.1"/>
<path d="M728.5 1378.1C729.1 1377.8 730.7 1376.9 731.7 1376.2C732.8 1375.4 734.4 1374.1 734.9 1373.6"/>
<path d="M739.4 1366.6L785 1366.6"/>
<ellipse cx="700.3" cy="1408.3" rx="28.2" ry="13.5" transform="rotate(0 700.3 1408.3)"/>
<path d="M678.5 1402.5C678.1 1403.5 676.1 1406.2 675.9 1408.3C675.7 1410.3 676.4 1413 677.2 1414.7C678.1 1416.4 680.4 1417.9 681.1 1418.5"/>
<path d="M683 1404.4C682.7 1405.3 681.1 1407.7 681.1 1409.6C681.1 1411.4 682.1 1413.9 683 1415.3C683.8 1416.7 685.7 1417.5 686.2 1417.9"/>
<path d="M722.1 1402.5C722.6 1403.5 724.7 1406.2 724.9 1408.3C725.2 1410.3 724.3 1413 723.4 1414.7C722.5 1416.4 720.2 1417.9 719.6 1418.5"/>
<path d="M717.6 1404.4C718 1405.3 719.8 1407.7 719.8 1409.6C719.8 1411.4 718.5 1413.9 717.6 1415.3C716.7 1416.7 715 1417.5 714.4 1417.9"/>
<ellipse cx="700.3" cy="1412.1" rx="14.1" ry="8" transform="rotate(0 700.3 1412.1)"/>
<ellipse cx="700.3" cy="1413.4" rx="10.9" ry="5.9" transform="rotate(0 700.3 1413.4)"/>
<path d="M672.1 1408.3L672.1 1450.9"/>
<path d="M728.5 1408.3L728.5 1452.1"/>
<path d="M672.1 1419.8C673.6 1421.1 676.4 1425.5 681.1 1427.3C685.8 1429 693.9 1430.3 700.3 1430.3C706.7 1430.3 714.8 1429 719.6 1427.3C724.3 1425.5 727 1421.1 728.5 1419.8"/>
<path d="M672.1 1425.6C673.6 1426.8 676.4 1431.3 681.1 1433C685.8 1434.8 693.9 1436.1 700.3 1436.1C706.7 1436.1 714.8 1434.8 719.6 1433C724.3 1431.3 727 1426.8 728.5 1425.6"/>
<path d="M672.1 1431.4C673.6 1432.6 676.4 1437.1 681.1 1438.8C685.8 1440.6 693.9 1441.9 700.3 1441.9C706.7 1441.9 714.8 1440.6 719.6 1438.8C724.3 1437.1 727 1432.6 728.5 1431.4"/>
<path d="M672.1 1437.1C673.6 1438.4 676.4 1442.8 681.1 1444.6C685.8 1446.3 693.9 1447.7 700.3 1447.7C706.7 1447.7 714.8 1446.3 719.6 1444.6C724.3 1442.8 727 1438.4 728.5 1437.1"/>
<path d="M672.1 1442.9C673.6 1444.2 676.4 1448.6 681.1 1450.4C685.8 1452.1 693.9 1453.4 700.3 1453.4C706.7 1453.4 714.8 1452.1 719.6 1450.4C724.3 1448.6 727 1444.2 728.5 1442.9"/>
<path d="M672.1 1448.7C673.6 1449.9 676.4 1454.4 681.1 1456.1C685.8 1457.9 693.9 1459.2 700.3 1459.2C706.7 1459.2 714.8 1457.9 719.6 1456.1C724.3 1454.4 727 1449.9 728.5 1448.7"/>
<path d="M672.1 1453.8C673.6 1455.1 676.4 1459.5 681.1 1461.3C685.8 1463 693.9 1464.3 700.3 1464.3C706.7 1464.3 714.8 1463 719.6 1461.3C724.3 1459.5 727 1455.1 728.5 1453.8"/>
<path d="M672.1 1421.4C672.6 1422 673.8 1424.2 675.3 1425.5C676.8 1426.7 680.1 1428.2 681.1 1428.8"/>
<path d="M728.5 1421.4C728 1422 726.8 1424.2 725.3 1425.5C723.8 1426.7 720.5 1428.2 719.6 1428.8"/>
<path d="M672.1 1427.1C672.6 1427.8 673.8 1430 675.3 1431.2C676.8 1432.5 680.1 1434 681.1 1434.6"/>
<path d="M728.5 1427.1C728 1427.8 726.8 1430 725.3 1431.2C723.8 1432.5 720.5 1434 719.6 1434.6"/>
<path d="M672.1 1432.9C672.6 1433.6 673.8 1435.8 675.3 1437C676.8 1438.2 680.1 1439.8 681.1 1440.3"/>
<path d="M728.5 1432.9C728 1433.6 726.8 1435.8 725.3 1437C723.8 1438.2 720.5 1439.8 719.6 1440.3"/>
<path d="M672.1 1438.7C672.6 1439.4 673.8 1441.5 675.3 1442.8C676.8 1444 680.1 1445.6 681.1 1446.1"/>
<path d="M728.5 1438.7C728 1439.4 726.8 1441.5 725.3 1442.8C723.8 1444 720.5 1445.6 719.6 1446.1"/>
<path d="M672.1 1444.5C672.6 1445.1 673.8 1447.3 675.3 1448.6C676.8 1449.8 680.1 1451.3 681.1 1451.9"/>
<path d="M728.5 1444.5C728 1445.1 726.8 1447.3 725.3 1448.6C723.8 1449.8 720.5 1451.3 719.6 1451.9"/>
<path d="M672.1 1430.7C670.8 1431.6 666.6 1433.7 664.4 1435.9C662.1 1438 659.9 1440.9 658.6 1443.6C657.3 1446.2 656.8 1450.5 656.4 1451.9"/>
<path d="M728.5 1430.7C729.8 1431.6 733.9 1433.7 736.2 1435.9C738.5 1438 741 1440.9 742.4 1443.6C743.8 1446.2 744.2 1450.5 744.6 1451.9"/>
<path d="M656.4 1453.2C658 1454.8 662.6 1460.2 665.7 1462.8C668.7 1465.4 671.4 1467 674.6 1468.6C677.9 1470.2 683.2 1471.8 684.9 1472.4"/>
<path d="M718.9 1471.8C720.3 1471.5 724.4 1471.4 727.2 1469.9C730.1 1468.4 733.3 1465.5 736.2 1462.8C739.1 1460.1 743.2 1455.3 744.6 1453.8"/>
<path d="M656.4 1469.9C656.8 1470.8 657.3 1473.6 658.6 1475.6C659.9 1477.7 661.7 1480 664.4 1482C667.1 1484.1 671 1486.3 674.6 1487.8C678.3 1489.4 681.9 1490.5 686.2 1491.4C690.5 1492.3 695.6 1493.2 700.3 1493.2C705 1493.2 710.2 1492.4 714.4 1491.4C718.7 1490.4 722.2 1488.8 725.7 1487.2C729.2 1485.5 732.9 1483.4 735.6 1481.4C738.3 1479.4 740.5 1477.1 742 1475C743.5 1472.8 744.1 1469.6 744.6 1468.6"/>
<path d="M656.4 1451.9L656.4 1469.9"/>
<path d="M744.6 1451.9L744.6 1468.6"/>
<path d="M675.3 1469.2L675.3 1487.8"/>
<path d="M725.7 1469.9L725.7 1487.2"/>
<path d="M744.6 1454.7L801.7 1454.7"/>
<path d="M933.4 1189.6C933.6 1189.1 933.6 1187.3 934.5 1186.4C935.3 1185.6 936.7 1185 938.5 1184.6C940.3 1184.2 943.1 1184.2 945.5 1184.2C947.8 1184.2 950.7 1184.2 952.5 1184.6C954.4 1185 955.7 1185.6 956.5 1186.4C957.4 1187.3 957.3 1189.1 957.5 1189.6"/>
<path d="M933.4 1189.6L933.4 1253.4"/>
<path d="M957.5 1189.6L957.5 1253.4"/>
<path d="M933.4 1196.5C934.1 1197.2 935.7 1199.7 937.7 1200.6C939.7 1201.6 942.9 1202.2 945.5 1202.2C948.1 1202.2 951.3 1201.6 953.3 1200.6C955.3 1199.7 956.8 1197.2 957.5 1196.5"/>
<path d="M933.4 1200.9C934.1 1201.6 935.7 1204.1 937.7 1205C939.7 1206 942.9 1206.6 945.5 1206.6C948.1 1206.6 951.3 1206 953.3 1205C955.3 1204.1 956.8 1201.6 957.5 1200.9"/>
<path d="M933.4 1205.3C934.1 1206 935.7 1208.5 937.7 1209.5C939.7 1210.4 942.9 1211.1 945.5 1211.1C948.1 1211.1 951.3 1210.4 953.3 1209.5C955.3 1208.5 956.8 1206 957.5 1205.3"/>
<path d="M933.4 1209.7C934.1 1210.4 935.7 1212.9 937.7 1213.9C939.7 1214.8 942.9 1215.5 945.5 1215.5C948.1 1215.5 951.3 1214.8 953.3 1213.9C955.3 1212.9 956.8 1210.4 957.5 1209.7"/>
<path d="M933.4 1214.1C934.1 1214.8 935.7 1217.3 937.7 1218.3C939.7 1219.2 942.9 1219.9 945.5 1219.9C948.1 1219.9 951.3 1219.2 953.3 1218.3C955.3 1217.3 956.8 1214.8 957.5 1214.1"/>
<path d="M933.4 1218.5C934.1 1219.2 935.7 1221.7 937.7 1222.7C939.7 1223.6 942.9 1224.3 945.5 1224.3C948.1 1224.3 951.3 1223.6 953.3 1222.7C955.3 1221.7 956.8 1219.2 957.5 1218.5"/>
<path d="M933.4 1222.9C934.1 1223.6 935.7 1226.1 937.7 1227.1C939.7 1228.1 942.9 1228.7 945.5 1228.7C948.1 1228.7 951.3 1228.1 953.3 1227.1C955.3 1226.1 956.8 1223.6 957.5 1222.9"/>
<path d="M933.4 1227.3C934.1 1228 935.7 1230.5 937.7 1231.5C939.7 1232.5 942.9 1233.1 945.5 1233.1C948.1 1233.1 951.3 1232.5 953.3 1231.5C955.3 1230.5 956.8 1228 957.5 1227.3"/>
<path d="M933.4 1231.7C934.1 1232.4 935.7 1235 937.7 1235.9C939.7 1236.9 942.9 1237.5 945.5 1237.5C948.1 1237.5 951.3 1236.9 953.3 1235.9C955.3 1235 956.8 1232.4 957.5 1231.7"/>
<path d="M933.4 1236.2C934.1 1236.9 935.7 1239.4 937.7 1240.3C939.7 1241.3 942.9 1241.9 945.5 1241.9C948.1 1241.9 951.3 1241.3 953.3 1240.3C955.3 1239.4 956.8 1236.9 957.5 1236.2"/>
<path d="M933.4 1240.6C934.1 1241.3 935.7 1243.8 937.7 1244.7C939.7 1245.7 942.9 1246.3 945.5 1246.3C948.1 1246.3 951.3 1245.7 953.3 1244.7C955.3 1243.8 956.8 1241.3 957.5 1240.6"/>
<path d="M933.4 1245C934.1 1245.7 935.7 1248.2 937.7 1249.1C939.7 1250.1 942.9 1250.8 945.5 1250.8C948.1 1250.8 951.3 1250.1 953.3 1249.1C955.3 1248.2 956.8 1245.7 957.5 1245"/>
<path d="M933.4 1249.4C934.1 1250.1 935.7 1252.6 937.7 1253.6C939.7 1254.5 942.9 1255.2 945.5 1255.2C948.1 1255.2 951.3 1254.5 953.3 1253.6C955.3 1252.6 956.8 1250.1 957.5 1249.4"/>
<path d="M933.4 1253.4C934.3 1254.2 936.5 1257.1 938.5 1258.2C940.5 1259.3 943.1 1259.8 945.5 1259.8C947.8 1259.8 950.5 1259.3 952.5 1258.2C954.5 1257.1 956.7 1254.2 957.5 1253.4"/>
<path d="M934.5 1193.3L936.9 1195.7"/>
<path d="M953.7 1195.7L956.5 1193.7"/>
<path d="M933.4 1239C931.9 1239.8 926.4 1242 924.1 1243.8C921.8 1245.5 920.5 1247.7 919.6 1249.4C918.8 1251.1 919.1 1253.4 919 1254.2"/>
<path d="M957.5 1239C959 1239.7 964.2 1241.6 966.6 1243.4C968.9 1245.1 970.5 1247.6 971.4 1249.4C972.3 1251.2 971.8 1253.4 971.9 1254.2"/>
<path d="M919 1254.2C919 1254.7 918.6 1255.9 919 1257.4C919.4 1258.9 920.4 1261.4 921.7 1263C922.9 1264.7 924.2 1266 926.5 1267.4C928.7 1268.8 932.1 1270.6 935.3 1271.4C938.5 1272.3 942 1272.7 945.5 1272.6C948.9 1272.6 953 1272.1 956.1 1271.2C959.2 1270.3 961.9 1268.9 964.2 1267.4C966.4 1265.9 968.5 1263.9 969.8 1262.2C971.1 1260.6 971.6 1258.7 971.9 1257.4C972.3 1256.1 971.9 1254.7 971.9 1254.2"/>
<path d="M919.2 1256.6C919.9 1257.4 921.5 1260 923.3 1261.4C925 1262.8 928.6 1264.4 929.7 1265"/>
<path d="M963.4 1263.8C964.2 1263.3 966.8 1261.8 968.2 1260.6C969.6 1259.4 971.2 1257.3 971.8 1256.6"/>
<path d="M925.3 1267.4C925.3 1268.4 925.1 1271.6 925.7 1273.4C926.3 1275.3 927.4 1276.9 928.9 1278.3C930.3 1279.7 931.7 1280.9 934.5 1281.9C937.2 1282.9 941.9 1284.3 945.5 1284.3C949.1 1284.3 953.3 1283 956.1 1281.9C959 1280.7 960.9 1279 962.6 1277.5C964.2 1275.9 965.1 1274.4 965.8 1272.6C966.4 1270.9 966.3 1268 966.4 1267"/>
<path d="M934.5 1271.2L934.6 1281.9"/>
<path d="M957.3 1270.9L957.3 1281.5"/>
<path d="M947.4 1425.3C944.6 1423.7 934.5 1417.9 930.5 1416C926.6 1414.1 926.6 1413.7 923.8 1413.8C921 1413.9 917 1414.7 913.7 1416.8C910.3 1419 906.5 1423 903.6 1426.9C900.6 1430.9 897.8 1435.6 896 1440.4C894.2 1445.2 892.9 1451.4 892.6 1455.6C892.3 1459.8 893.3 1463.4 894.3 1465.7C895.3 1467.9 897.8 1468.5 898.5 1469"/>
<path d="M898.5 1469L917 1479.2"/>
<path d="M947.4 1425.3C945.4 1426.9 939.2 1431.2 935.6 1435.4C931.9 1439.6 928.3 1445.5 925.5 1450.5C922.7 1455.6 920.1 1460.9 918.7 1465.7C917.3 1470.5 916.9 1475.5 917 1479.2C917.2 1482.8 918.3 1485.3 919.6 1487.6C920.8 1489.8 923.8 1491.8 924.6 1492.6"/>
<path d="M924.6 1492.6L939.8 1501"/>
<path d="M947.4 1425.3C948.8 1425.1 953.3 1424.3 955.8 1424.4C958.3 1424.6 961.4 1425.8 962.5 1426.1"/>
<path d="M962.5 1426.1L979.4 1435.4"/>
<path d="M938.9 1433.7L949 1439.6"/>
<path d="M949 1440.4L954.1 1438.4L957.8 1442.9L952.4 1445.1Z"/>
<path d="M957.5 1442.9L960.8 1445.5"/>
<path d="M918.4 1467.4L930.5 1474.1"/>
<path d="M930.2 1473.3L934.7 1471.6L936.4 1478.3L932.2 1480Z"/>
<path d="M936.4 1476.6L940.6 1479.2"/>
<path d="M979.4 1435.7C978 1436.2 974.3 1436.5 970.9 1438.7C967.6 1440.9 962.8 1444.6 959.2 1448.8C955.5 1453 951.9 1458.9 949 1464C946.2 1469 943.9 1474.4 942.3 1479.2C940.8 1483.9 939.9 1488.4 939.8 1492.6C939.6 1496.8 939.9 1501.5 941.5 1504.4C943 1507.4 947.8 1509.3 949 1510.3"/>
<path d="M991.1 1439.6C990 1439 986.4 1436.9 984.4 1436.2C982.4 1435.6 980.2 1435.8 979.4 1435.7"/>
<path d="M981 1450.5C979.4 1451.9 974.3 1455 970.9 1458.9C967.6 1462.9 963.4 1469 960.8 1474.1C958.3 1479.2 956.8 1484.8 955.8 1489.3C954.8 1493.7 954.8 1497.7 954.9 1501C955.1 1504.4 956.3 1508.1 956.6 1509.5"/>
<path d="M941.5 1479.2L948.2 1480L950.7 1474.1"/>
<path d="M942.3 1484.2C942.9 1484.6 945.3 1485 945.7 1486.7C946.1 1488.4 944.6 1491.4 944.8 1494.3C945.1 1497.3 945.5 1501.3 947.4 1504.4C949.2 1507.5 954.4 1511.4 955.8 1512.8"/>
<path d="M989.5 1445.5L997.9 1441.3"/>
<path d="M997.9 1442.1C999.8 1441.5 1006 1438.8 1009.7 1438.4C1013.3 1438 1016.1 1438.4 1019.8 1439.6C1023.4 1440.8 1027.9 1443.6 1031.6 1445.5C1035.2 1447.3 1038.9 1448.3 1041.7 1450.5C1044.5 1452.8 1046.7 1455.6 1048.4 1458.9C1050.1 1462.3 1051.2 1467.1 1051.8 1470.7C1052.3 1474.4 1051.8 1479.2 1051.8 1480.8"/>
<path d="M997.9 1442.1C995.6 1443.5 988.9 1446.3 984.4 1450.5C979.9 1454.7 974.9 1461.5 970.9 1467.4C967 1473.3 963.2 1479.7 960.8 1485.9C958.4 1492.1 957.2 1499.1 956.6 1504.4C956.1 1509.7 956.5 1513.7 957.5 1517.9C958.4 1522.1 960 1526 962.5 1529.7C965 1533.3 969.5 1537.5 972.6 1539.8C975.7 1542 979.6 1542.6 981 1543.1"/>
<path d="M1031.6 1448.8C1029.9 1449 1025.1 1448.6 1021.5 1449.7C1017.8 1450.8 1013.9 1452.3 1009.7 1455.6C1005.5 1458.8 1000.4 1463.7 996.2 1469C992 1474.4 987.6 1481.4 984.4 1487.6C981.2 1493.7 978.5 1500.5 976.8 1506.1C975.1 1511.7 974.3 1516.5 974.3 1521.3C974.3 1526 975.4 1531.1 976.8 1534.7C978.2 1538.4 980.3 1541.2 982.7 1543.1C985.1 1545.1 988.1 1546.1 991.1 1546.5C994.2 1546.9 997.9 1546.5 1001.3 1545.7C1004.6 1544.8 1008.8 1542.7 1011.4 1541.5C1013.9 1540.2 1015.6 1538.7 1016.4 1538.1"/>
<path d="M1011.4 1450.5C1013.6 1450 1020.6 1447.2 1024.8 1447.2C1029 1447.2 1033.3 1448.6 1036.6 1450.5C1040 1452.5 1043.1 1455.6 1045 1458.9C1047 1462.3 1047.8 1467.4 1048.4 1470.7C1049 1474.1 1048.4 1477.7 1048.4 1479.2"/>
<path d="M981 1543.1C982.4 1544.1 986.7 1547.9 989.5 1549C992.3 1550.2 995.1 1550 997.9 1549.9C1000.7 1549.7 1004.9 1548.5 1006.3 1548.2"/>
<path d="M971.8 1520.4C971.9 1522.2 971.6 1527.8 972.6 1531.4C973.6 1534.9 976.8 1539.8 977.7 1541.5"/>
<path d="M994.5 1471.6C994.7 1472.8 995.9 1476.5 995.4 1479.2C994.8 1481.8 993 1485.2 991.1 1487.6C989.3 1490 986.4 1492.2 984.4 1493.5C982.4 1494.7 980.2 1494.9 979.4 1495.1"/>
<path d="M1013.9 1455.6L1031.6 1465.7L1048.4 1479.2"/>
<path d="M976 1522.1L997.9 1534.7"/>
<path d="M997.9 1534.7C999.3 1535.1 1003.8 1536.8 1006.3 1537.3C1008.8 1537.7 1011.9 1537.3 1013 1537.3"/>
<path d="M1036.6 1469C1033.8 1469.3 1024.3 1469 1019.8 1470.7C1015.3 1472.4 1012.9 1475.2 1009.7 1479.2C1006.4 1483.1 1002.7 1489.3 1000.4 1494.3C998.2 1499.4 996.9 1504.7 996.2 1509.5C995.5 1514.2 995.4 1519 996.2 1522.9C997 1526.9 999.6 1530.7 1001.3 1533C1002.9 1535.4 1005.5 1536.5 1006.3 1537.3"/>
<path d="M1036.6 1469L1048.4 1479.2L1070.3 1490.9"/>
<path d="M1006.3 1537.3L1028.2 1548.2L1040 1550.7"/>
<path d="M1035.9 1473.8C1034 1474.2 1027.7 1474.5 1024.2 1476.3C1020.6 1478.1 1017.8 1481.1 1014.9 1484.7C1011.9 1488.4 1008.5 1493.4 1006.5 1498.2C1004.4 1503 1003.2 1508.7 1002.6 1513.3C1002 1518 1002.3 1522.3 1003.1 1526C1003.9 1529.6 1006.1 1533.1 1007.3 1535.2C1008.6 1537.4 1010.1 1538.3 1010.7 1538.9"/>
<path d="M1040.3 1476C1038.4 1476.4 1032 1476.7 1028.5 1478.5C1025 1480.3 1022.2 1483.2 1019.3 1486.9C1016.3 1490.5 1012.9 1495.6 1010.9 1500.4C1008.8 1505.1 1007.5 1510.9 1007 1515.5C1006.4 1520.2 1006.7 1524.5 1007.5 1528.2C1008.3 1531.8 1010.4 1535.3 1011.7 1537.4C1013 1539.6 1014.5 1540.5 1015.1 1541.1"/>
<path d="M1044.7 1478.1C1042.7 1478.6 1036.4 1478.8 1032.9 1480.7C1029.4 1482.5 1026.6 1485.4 1023.7 1489.1C1020.7 1492.7 1017.3 1497.8 1015.2 1502.6C1013.2 1507.3 1011.9 1513.1 1011.4 1517.7C1010.8 1522.3 1011.1 1526.7 1011.9 1530.3C1012.6 1534 1014.8 1537.4 1016.1 1539.6C1017.3 1541.8 1018.9 1542.7 1019.4 1543.3"/>
<path d="M1049.1 1480.3C1047.1 1480.8 1040.8 1481 1037.3 1482.9C1033.8 1484.7 1031 1487.6 1028 1491.3C1025.1 1494.9 1021.7 1500 1019.6 1504.7C1017.6 1509.5 1016.3 1515.3 1015.7 1519.9C1015.2 1524.5 1015.5 1528.9 1016.2 1532.5C1017 1536.2 1019.2 1539.6 1020.5 1541.8C1021.7 1544 1023.3 1544.9 1023.8 1545.5"/>
<path d="M1053.5 1482.5C1051.5 1482.9 1045.2 1483.2 1041.7 1485C1038.2 1486.9 1035.4 1489.8 1032.4 1493.5C1029.5 1497.1 1026 1502.2 1024 1506.9C1021.9 1511.7 1020.7 1517.5 1020.1 1522.1C1019.6 1526.7 1019.8 1531.1 1020.6 1534.7C1021.4 1538.4 1023.6 1541.8 1024.8 1544C1026.1 1546.1 1027.6 1547.1 1028.2 1547.7"/>
<path d="M1057.8 1484.7C1055.9 1485.1 1049.6 1485.4 1046 1487.2C1042.5 1489.1 1039.7 1492 1036.8 1495.7C1033.8 1499.3 1030.4 1504.4 1028.4 1509.1C1026.3 1513.9 1025.1 1519.7 1024.5 1524.3C1023.9 1528.9 1024.2 1533.3 1025 1536.9C1025.8 1540.6 1027.9 1544 1029.2 1546.2C1030.5 1548.3 1032 1549.3 1032.6 1549.9"/>
<path d="M1062.2 1486.9C1060.3 1487.3 1053.9 1487.6 1050.4 1489.4C1046.9 1491.2 1044.1 1494.2 1041.2 1497.8C1038.2 1501.5 1034.8 1506.5 1032.7 1511.3C1030.7 1516.1 1029.4 1521.8 1028.9 1526.5C1028.3 1531.1 1028.6 1535.5 1029.4 1539.1C1030.2 1542.8 1032.3 1546.2 1033.6 1548.4C1034.9 1550.5 1036.4 1551.5 1037 1552.1"/>
<path d="M1070.3 1491.8C1071.1 1493.9 1074.8 1499.5 1075.4 1504.4C1075.9 1509.3 1075.4 1515.9 1073.7 1521.3C1072 1526.6 1068.6 1532.2 1065.2 1536.4C1061.9 1540.6 1057.7 1544.1 1053.5 1546.5C1049.2 1548.9 1042.2 1550 1040 1550.7"/>
<path d="M1061 1503.6C1059.5 1504 1054.7 1504 1051.8 1506.1C1048.8 1508.2 1045.3 1512.6 1043.4 1516.2C1041.4 1519.8 1040.1 1524.6 1040 1528C1039.8 1531.4 1041.1 1534.7 1042.5 1536.4C1043.9 1538.1 1046.4 1538.1 1048.4 1538.1C1050.4 1538.1 1053.3 1536.7 1054.3 1536.4"/>
<path d="M1058.5 1504.4C1059.5 1504.8 1063 1505.5 1064.4 1506.9C1065.8 1508.3 1066.5 1511.9 1066.9 1512.8"/>
<path d="M1061 1504.4L1062.7 1512"/>
<path d="M1009.3 1376.9L1009.3 1438.4"/>
<path d="M188.8 1442.5L204.5 1416.1L207.7 1418.5L207.9 1420.5L238.6 1403.2L241.4 1404.8L241.4 1425.7L207.7 1445.3L207.7 1451.7L188.8 1442.9Z" style="fill:#000;stroke:#000;stroke-width:0.6"/>
<polygon points="190.4,1442.5 204.9,1418.1 206.5,1419.3 192.5,1443.3" style="fill:#fff;stroke:none"/>
<polygon points="207.7,1421.7 238.6,1404.4 239.8,1405.6 208.5,1423.3" style="fill:#fff;stroke:none"/>
<text transform="matrix(0.62 -0.345 0 1 207.5 1442.4)" x="0" y="0" font-size="22.5" style="fill:#fff;stroke:#000;stroke-width:0.45;paint-order:fill stroke">FWD</text>
<text x="48.6" y="106.8" font-size="43" font-weight="bold" style="fill:#000;stroke:none" textLength="127.5" lengthAdjust="spacingAndGlyphs">FIG.15</text>
<text x="51" y="1690" font-size="21.5" textLength="206.5" lengthAdjust="spacingAndGlyphs">LT-F400K8 P28 P33</text>
<text x="259" y="1690" font-size="21.5" textLength="51" lengthAdjust="spacingAndGlyphs">_015</text>
<text x="49.5" y="1723" font-size="21.5" textLength="109.5" lengthAdjust="spacingAndGlyphs">OIL PUMP</text>
<text x="550.9" y="171.3" font-size="21.5" text-anchor="middle" >3</text>
<text x="396" y="214.4" font-size="21.5" text-anchor="middle" >6</text>
<text x="590" y="516" font-size="21.5" text-anchor="middle" >5</text>
<text x="642" y="528" font-size="21.5" text-anchor="middle" >4</text>
<text x="766.8" y="367.5" font-size="21.5" text-anchor="middle" >1</text>
<text x="957.7" y="381.3" font-size="21.5" text-anchor="middle" >2</text>
<text x="848.9" y="732.3" font-size="21.5" text-anchor="middle" >2</text>
<text x="232.8" y="531.7" font-size="21.5" text-anchor="middle" >15</text>
<text x="487" y="569.5" font-size="21.5" text-anchor="middle" >7</text>
<text x="495.5" y="832.2" font-size="21.5" text-anchor="middle" >8</text>
<text x="1000.3" y="835.3" font-size="21.5" text-anchor="middle" >9</text>
<text x="1009.4" y="1371" font-size="21.5" text-anchor="middle" >16</text>
<text x="957" y="1003" font-size="21.5" text-anchor="start" >11</text>
<text x="1038.6" y="1143.5" font-size="21.5" text-anchor="start" >10</text>
<text x="1020.3" y="1259.6" font-size="21.5" text-anchor="start" >12</text>
<text x="790" y="1373.7" font-size="21.5" text-anchor="start" >14</text>
<text x="808.4" y="1463.8" font-size="21.5" text-anchor="start" >13</text>
<path d="M901.2 996L951.9 996"/>
<path d="M976.2 1136.8L1031.9 1136.8"/>
<path d="M971.9 1251.9L1013.6 1251.9"/>
<path d="M505.5 825.2L543.8 825.2"/>
</svg>
</body></html>
